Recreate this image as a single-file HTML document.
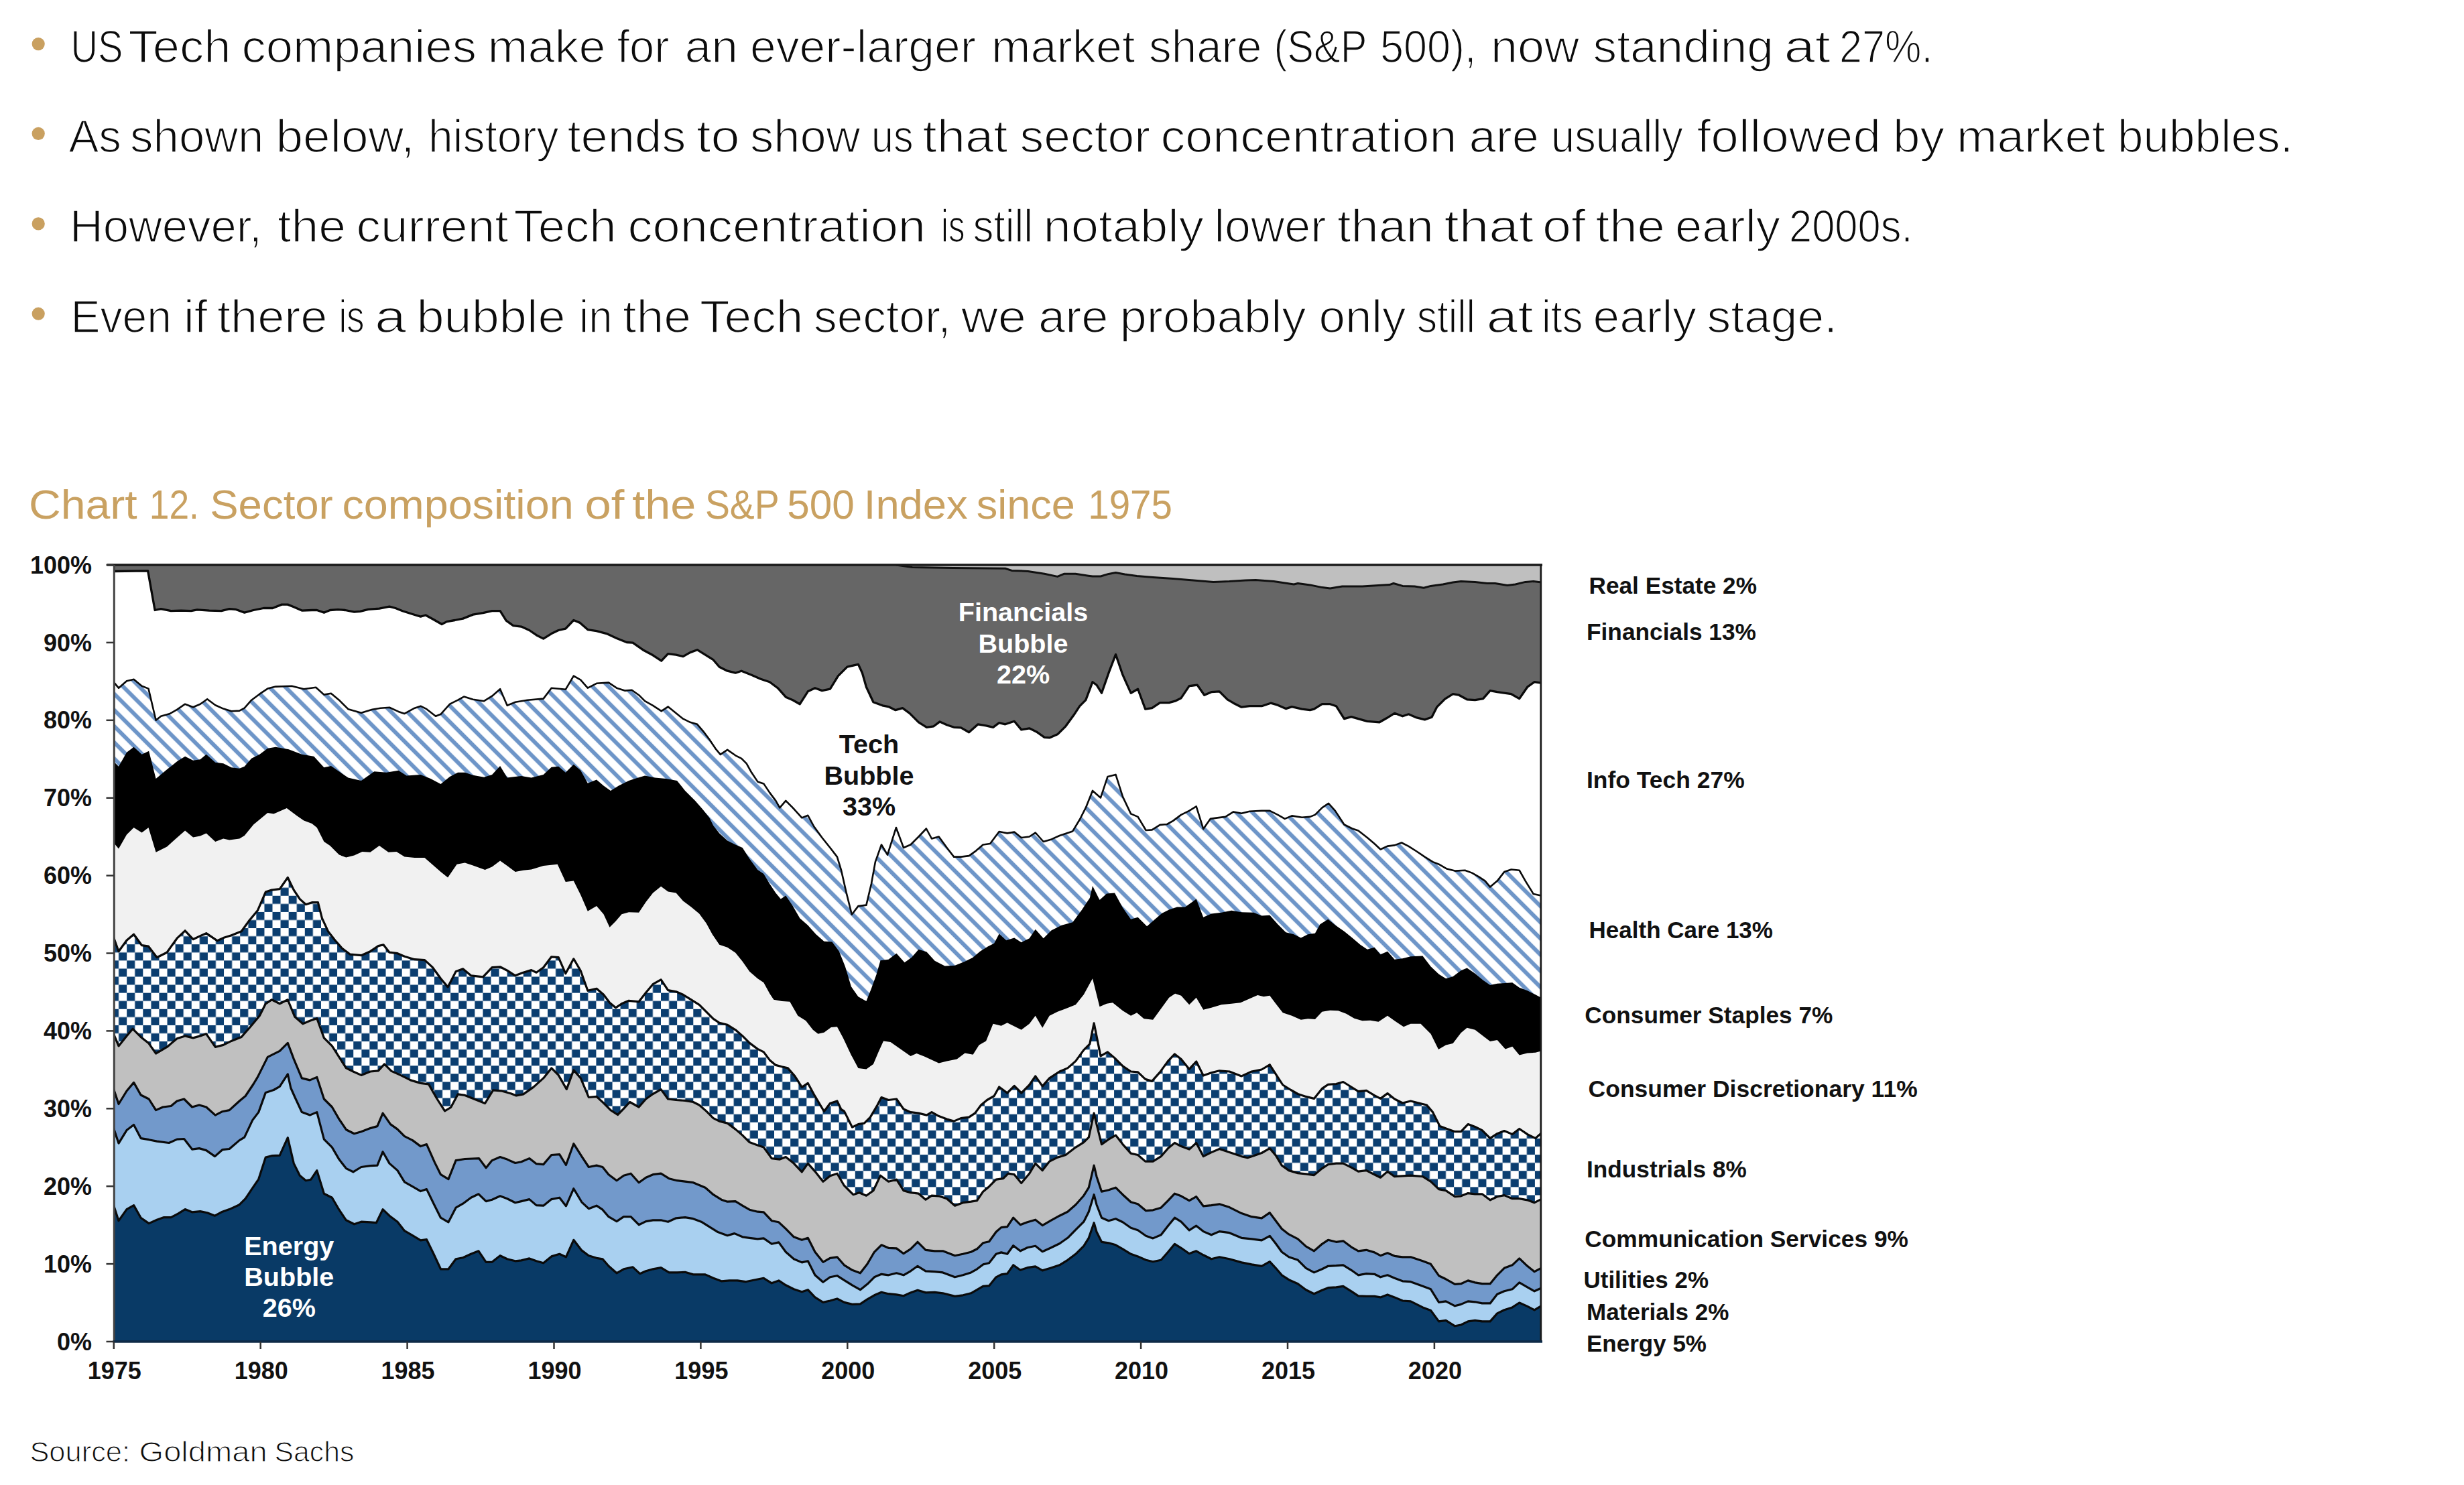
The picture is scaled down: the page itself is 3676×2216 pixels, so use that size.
<!DOCTYPE html>
<html><head><meta charset="utf-8"><title>Chart 12</title>
<style>
html,body{margin:0;padding:0;background:#fff;}
svg{display:block;}
text{font-family:"Liberation Sans",sans-serif;}
.bd{font-size:69px;fill:#0c0c0c;stroke:#fff;stroke-width:1.7px;}
.tt{font-size:61px;fill:#c9a161;}
.sr{font-size:42.5px;fill:#0c0c0c;stroke:#fff;stroke-width:1.1px;}
.ax{font-size:36px;font-weight:bold;fill:#111;}
.lg{font-size:35px;font-weight:bold;fill:#111;}
.il{font-size:39.6px;font-weight:bold;}
</style></head><body>
<svg width="3676" height="2216" viewBox="0 0 3676 2216">
<defs>
<pattern id="chk" patternUnits="userSpaceOnUse" x="406.5" y="1457.5" width="24.146" height="24.146"><rect width="24.146" height="24.146" fill="#ffffff"/><rect x="0" y="0" width="12.073" height="12.073" fill="#0b3e70"/><rect x="12.073" y="12.073" width="12.073" height="12.073" fill="#0b3e70"/></pattern>
<pattern id="stp" patternUnits="userSpaceOnUse" width="40" height="17.074" patternTransform="translate(408.1,1080) rotate(45)"><rect width="40" height="17.074" fill="#ffffff"/><rect x="0" y="0" width="40" height="3.000" fill="#6d95c8"/><rect x="0" y="14.074" width="40" height="3.000" fill="#6d95c8"/></pattern>
<clipPath id="cc"><rect x="169.5" y="843.0" width="2130.5" height="1159.0"/></clipPath>
</defs>
<rect width="3676" height="2216" fill="#ffffff"/>
<g clip-path="url(#cc)" stroke-linejoin="round">
<rect x="169.5" y="843.0" width="2130.5" height="1159.0" fill="#666666"/>
<polygon points="1336.5,843.0 1361.0,846.6 1421.7,847.5 1499.7,848.3 1509.4,851.4 1533.7,852.4 1558.1,856.3 1577.6,860.4 1587.3,856.3 1604.4,856.3 1623.8,859.2 1630.0,860.0 1642.0,860.0 1654.0,856.4 1664.5,854.6 1678.1,857.0 1696.1,859.4 1720.1,861.5 1750.1,863.6 1780.2,866.0 1810.2,868.4 1834.2,867.5 1858.2,866.0 1873.3,865.4 1900.3,867.5 1930.3,872.0 1936.3,870.5 1954.4,872.9 1972.4,876.6 1984.4,878.1 2002.4,875.0 2032.4,875.0 2056.5,873.5 2073.0,872.6 2079.0,870.5 2092.5,874.4 2110.5,875.0 2124.0,877.2 2134.5,874.4 2152.6,872.0 2167.6,869.0 2179.6,867.5 2200.6,868.4 2218.6,870.5 2230.6,870.5 2248.7,873.5 2260.7,872.0 2275.7,868.4 2287.7,867.5 2300.0,869.0 2300.0,843.0" fill="#bfbfbf"/>
<polygon points="169.5,852.5 220.6,851.9 231.1,910.5 240.1,908.7 255.1,911.7 270.1,911.1 285.1,911.7 294.2,909.9 312.2,911.1 330.2,911.7 342.2,908.7 351.2,909.3 364.7,914.1 378.2,910.5 393.3,907.5 406.8,907.5 420.3,902.1 429.3,902.1 438.3,905.7 450.3,911.1 465.3,910.5 472.8,910.5 483.4,914.1 492.4,910.5 504.4,909.6 514.9,910.5 528.4,913.2 537.4,912.3 549.4,909.3 565.9,908.1 581.0,905.1 590.0,907.5 600.5,911.7 615.5,916.5 627.5,920.1 635.0,918.0 645.5,923.7 659.1,931.5 666.6,927.6 678.6,925.5 690.6,923.1 705.6,917.1 720.6,914.7 734.1,911.7 746.1,911.7 755.2,926.1 765.7,933.6 777.7,935.1 789.7,940.5 800.2,947.7 810.7,953.1 822.7,945.6 833.2,940.5 843.8,938.1 855.8,925.5 864.8,929.1 876.8,939.6 890.0,941.7 905.0,945.6 920.0,952.5 935.0,958.5 944.1,959.1 959.1,969.7 974.1,977.8 986.7,986.2 996.6,975.7 1008.6,977.2 1019.1,979.6 1029.7,973.6 1040.2,969.7 1052.2,977.2 1064.2,984.7 1073.2,995.2 1085.2,1001.2 1097.2,1004.2 1106.2,1001.2 1121.2,1007.2 1134.8,1013.2 1148.3,1017.7 1160.3,1026.7 1172.3,1040.2 1182.8,1044.7 1193.3,1050.7 1205.3,1031.8 1215.9,1026.7 1226.4,1030.6 1238.4,1028.2 1250.4,1008.7 1263.9,995.2 1280.4,991.3 1286.4,1004.2 1292.4,1025.2 1302.9,1047.7 1316.5,1052.8 1325.5,1054.6 1336.0,1059.7 1346.5,1056.7 1357.0,1064.3 1370.5,1077.8 1382.5,1085.3 1393.0,1083.8 1402.1,1076.9 1412.6,1081.7 1423.1,1085.3 1433.6,1085.9 1445.6,1092.8 1459.1,1080.8 1471.1,1082.9 1481.6,1085.3 1490.6,1078.7 1499.7,1080.8 1513.2,1076.3 1523.7,1088.9 1535.7,1086.8 1546.2,1091.9 1558.2,1100.3 1565.7,1100.9 1577.7,1095.8 1589.8,1083.8 1601.8,1067.3 1610.8,1053.7 1619.8,1044.7 1630.0,1017.7 1636.0,1022.2 1643.5,1034.2 1654.0,1004.2 1664.5,976.6 1675.0,1007.2 1687.1,1034.2 1697.6,1028.2 1708.7,1058.2 1718.6,1056.7 1730.6,1048.6 1744.1,1048.6 1753.1,1046.2 1762.1,1041.7 1774.2,1023.7 1786.2,1022.2 1796.7,1037.2 1807.2,1032.7 1819.2,1031.8 1831.2,1043.8 1840.2,1049.2 1852.2,1055.2 1864.3,1053.7 1882.3,1053.7 1895.8,1049.2 1906.3,1052.2 1918.3,1057.6 1927.3,1054.6 1942.3,1058.2 1954.4,1059.7 1960.4,1058.2 1972.4,1050.7 1984.4,1050.7 1993.4,1053.7 2005.4,1072.7 2015.9,1069.7 2026.4,1072.7 2039.9,1076.3 2058.0,1077.8 2068.5,1071.8 2080.5,1064.3 2092.5,1068.8 2101.5,1065.8 2113.5,1070.9 2125.5,1073.9 2136.0,1070.3 2143.6,1055.2 2155.6,1043.2 2167.6,1035.7 2176.6,1037.2 2188.6,1043.8 2200.6,1044.7 2212.6,1042.6 2223.1,1030.6 2233.7,1032.7 2254.7,1035.7 2266.7,1042.6 2278.7,1025.2 2289.2,1017.7 2299.1,1019.2 2300.0,1019.2 2300.0,2007.0 169.5,2007.0" fill="#ffffff"/>
<polygon points="169.5,1017.7 177.0,1026.7 189.0,1016.2 199.6,1013.8 211.6,1023.7 221.5,1027.6 232.6,1074.8 240.1,1068.8 253.6,1064.9 264.1,1058.8 276.1,1050.7 288.1,1055.2 298.7,1050.7 309.2,1043.2 321.2,1052.2 333.2,1057.6 345.2,1061.2 357.2,1060.6 364.7,1056.7 375.2,1044.7 387.3,1035.7 399.3,1027.6 411.3,1024.6 435.3,1023.7 453.3,1028.2 471.3,1025.8 483.4,1036.6 493.9,1034.8 505.9,1044.7 519.4,1058.2 538.9,1063.7 555.4,1058.8 567.5,1056.7 581.0,1055.8 594.5,1061.9 603.5,1064.9 618.5,1056.7 627.5,1053.7 636.5,1058.2 650.0,1068.8 657.5,1065.8 671.1,1050.7 683.1,1044.7 692.1,1039.6 705.6,1043.8 722.1,1046.2 734.1,1038.7 746.1,1028.2 756.7,1052.8 768.7,1047.7 786.7,1044.7 810.7,1042.6 822.7,1026.7 843.8,1028.8 855.8,1008.7 866.3,1014.7 876.8,1026.7 890.0,1019.8 908.0,1018.6 920.0,1026.7 932.0,1030.6 942.6,1029.7 953.1,1037.2 962.1,1046.2 974.1,1052.8 986.7,1061.2 996.6,1054.6 1008.6,1064.3 1019.1,1072.7 1029.7,1077.8 1040.2,1080.8 1049.2,1091.3 1058.2,1103.3 1067.2,1116.8 1074.7,1125.8 1085.2,1118.9 1097.2,1127.3 1106.2,1131.8 1113.7,1139.3 1121.2,1152.8 1130.3,1166.4 1139.3,1169.4 1148.3,1182.9 1157.3,1194.9 1163.3,1205.4 1172.3,1194.9 1182.8,1205.4 1196.3,1220.4 1205.3,1216.8 1214.4,1233.5 1226.4,1250.0 1238.4,1265.0 1248.9,1278.6 1254.9,1298.1 1262.4,1331.1 1270.8,1364.8 1280.4,1352.1 1292.4,1350.6 1299.9,1319.1 1305.9,1286.1 1315.0,1260.5 1324.0,1275.6 1336.9,1235.0 1348.0,1265.0 1358.5,1260.5 1370.5,1248.5 1381.9,1236.5 1390.0,1251.5 1400.6,1248.5 1412.6,1265.0 1423.1,1278.6 1433.6,1278.6 1445.6,1277.1 1456.1,1269.6 1466.6,1260.5 1477.1,1259.0 1490.6,1241.0 1502.7,1243.4 1513.2,1241.6 1523.7,1250.0 1535.7,1248.5 1544.7,1242.5 1556.7,1256.0 1568.7,1252.4 1580.7,1247.0 1600.3,1240.4 1610.8,1223.0 1619.8,1205.4 1630.0,1179.9 1642.0,1190.4 1652.5,1158.9 1664.5,1155.9 1675.0,1188.9 1687.1,1214.4 1697.6,1218.9 1709.6,1239.0 1718.6,1238.4 1730.6,1230.9 1741.1,1230.0 1750.1,1224.9 1762.1,1215.9 1774.2,1209.9 1784.7,1203.3 1795.2,1236.9 1805.7,1221.9 1816.2,1220.4 1828.2,1218.9 1840.2,1211.4 1852.2,1213.8 1864.3,1210.8 1882.3,1209.9 1894.3,1209.9 1906.3,1215.9 1916.8,1221.9 1927.3,1217.4 1942.3,1219.8 1954.4,1218.9 1961.9,1215.9 1972.4,1205.4 1982.0,1198.8 1991.9,1209.9 2005.4,1230.5 2017.4,1236.5 2026.4,1239.5 2039.9,1250.0 2050.5,1259.0 2059.5,1267.5 2070.0,1262.6 2080.5,1261.4 2091.0,1257.5 2101.5,1262.9 2113.5,1270.5 2125.5,1278.6 2137.5,1286.1 2146.6,1289.7 2158.6,1296.6 2170.6,1299.6 2185.6,1298.7 2196.1,1302.6 2206.6,1308.6 2215.6,1314.6 2223.1,1323.6 2233.7,1314.6 2244.2,1301.1 2254.7,1297.5 2266.7,1298.7 2275.7,1314.6 2287.7,1334.1 2299.1,1336.5 2300.0,1336.5 2300.0,2007.0 169.5,2007.0" fill="url(#stp)"/>
<polygon points="169.5,1136.3 177.0,1143.8 189.0,1122.8 199.6,1114.7 211.6,1125.8 222.1,1120.7 232.6,1161.9 249.1,1148.3 264.1,1136.3 276.1,1128.8 288.1,1134.8 298.7,1133.3 307.7,1125.8 321.2,1137.8 333.2,1139.3 345.2,1145.3 357.2,1146.8 364.7,1143.8 375.2,1131.8 387.3,1125.8 399.3,1116.8 411.3,1114.7 430.8,1118.3 450.3,1125.8 468.3,1128.8 483.4,1145.3 493.9,1142.9 505.9,1151.3 519.4,1160.4 538.9,1164.9 558.4,1151.3 576.5,1152.8 594.5,1149.8 606.5,1157.4 627.5,1155.9 642.5,1161.9 657.5,1170.0 671.1,1158.9 683.1,1152.8 693.6,1152.8 705.6,1156.8 722.1,1159.8 734.1,1155.9 746.1,1142.9 756.7,1160.4 777.7,1158.0 792.7,1160.4 810.7,1155.9 822.7,1144.7 833.2,1143.8 843.8,1152.8 855.8,1140.8 866.3,1149.8 876.8,1168.8 890.0,1163.4 900.5,1172.4 911.0,1179.9 923.0,1172.4 938.1,1164.9 947.1,1161.9 962.1,1157.4 977.1,1160.4 993.6,1161.9 1010.1,1164.9 1022.1,1179.9 1037.2,1194.9 1047.7,1206.9 1058.2,1220.0 1064.2,1232.0 1073.2,1243.4 1085.2,1254.5 1097.2,1260.5 1107.7,1265.0 1118.2,1281.6 1130.3,1298.1 1139.3,1304.1 1148.3,1319.1 1157.3,1332.6 1164.8,1341.6 1172.3,1336.5 1182.8,1352.1 1193.3,1370.2 1205.3,1380.7 1217.4,1394.2 1229.4,1404.7 1241.4,1405.6 1251.9,1419.7 1260.9,1442.2 1269.9,1472.3 1280.4,1487.3 1292.4,1493.9 1299.9,1475.3 1307.5,1454.3 1313.5,1433.2 1325.5,1431.7 1337.5,1422.7 1349.5,1436.2 1360.0,1428.7 1370.5,1416.7 1382.5,1420.6 1394.5,1433.8 1409.6,1441.6 1424.6,1440.7 1439.6,1434.7 1451.6,1428.7 1462.1,1419.7 1474.1,1412.2 1483.1,1407.7 1490.6,1393.6 1501.2,1403.2 1513.2,1399.6 1523.7,1406.2 1535.7,1400.2 1544.7,1386.7 1556.7,1400.2 1568.7,1388.2 1583.8,1380.7 1600.3,1376.2 1613.8,1358.1 1625.8,1340.1 1630.0,1322.1 1640.5,1343.1 1651.0,1333.5 1663.0,1332.6 1675.0,1354.5 1687.1,1371.7 1697.6,1368.7 1711.1,1382.2 1723.1,1371.7 1733.6,1362.7 1744.1,1357.5 1756.1,1353.6 1768.1,1353.6 1784.7,1341.6 1795.2,1368.7 1807.2,1363.6 1822.2,1361.8 1837.2,1358.8 1852.2,1361.2 1870.3,1361.8 1882.3,1366.6 1894.3,1365.7 1906.3,1379.2 1918.3,1391.2 1930.3,1394.2 1940.8,1399.6 1951.3,1394.2 1961.9,1392.7 1969.4,1379.2 1981.4,1371.7 1993.4,1381.6 2005.4,1389.7 2017.4,1399.6 2029.4,1409.8 2039.9,1416.7 2050.5,1413.7 2059.5,1424.2 2070.0,1419.7 2080.5,1431.7 2092.5,1430.2 2104.5,1427.2 2122.5,1426.6 2134.5,1442.2 2146.6,1453.7 2157.1,1460.3 2167.6,1457.3 2179.6,1448.2 2188.6,1444.6 2200.6,1452.8 2212.6,1462.7 2223.1,1469.9 2233.7,1467.8 2245.7,1466.9 2256.2,1466.3 2266.7,1473.8 2278.7,1478.3 2290.7,1484.3 2299.1,1488.8 2300.0,1488.8 2300.0,2007.0 169.5,2007.0" fill="#000000"/>
<polygon points="169.5,1257.5 177.0,1266.6 189.0,1245.5 199.6,1235.0 211.6,1242.5 221.5,1235.0 232.6,1271.7 249.1,1263.5 264.1,1250.0 276.1,1239.5 288.1,1249.4 298.7,1247.6 307.7,1243.4 321.2,1256.0 333.2,1251.5 342.2,1253.6 357.2,1251.5 364.7,1247.0 378.2,1230.5 399.3,1212.9 408.3,1214.4 427.8,1206.0 442.8,1217.3 453.3,1224.5 465.3,1229.0 472.8,1235.0 483.4,1256.0 492.4,1262.0 505.9,1275.6 516.4,1279.5 528.4,1276.5 540.4,1271.1 552.4,1271.7 565.9,1262.0 579.5,1271.7 591.5,1271.1 603.5,1278.6 618.5,1280.1 633.5,1280.1 645.5,1290.6 657.5,1301.1 668.1,1309.5 681.6,1289.7 693.6,1287.6 705.6,1291.5 723.6,1298.1 734.1,1293.6 746.1,1284.6 756.7,1292.1 768.7,1301.1 780.7,1298.7 792.7,1297.5 810.7,1292.1 831.7,1289.7 843.8,1316.1 855.8,1314.6 866.3,1335.6 876.8,1359.7 890.0,1352.1 900.5,1364.2 909.5,1383.7 918.5,1374.7 927.5,1364.2 938.1,1361.2 953.1,1361.8 963.6,1346.1 974.1,1332.6 986.1,1322.7 996.6,1330.5 1008.6,1332.6 1019.1,1344.6 1031.2,1353.6 1043.2,1363.6 1053.7,1377.7 1062.7,1394.2 1073.2,1409.8 1085.2,1413.7 1097.2,1421.8 1107.7,1434.7 1118.2,1449.7 1130.3,1460.3 1139.3,1466.3 1148.3,1482.8 1154.3,1491.8 1166.3,1493.9 1178.3,1494.8 1190.3,1515.8 1202.3,1523.3 1212.8,1536.8 1220.4,1542.8 1229.4,1540.7 1239.9,1532.9 1248.9,1532.3 1257.9,1548.9 1269.9,1574.4 1280.4,1593.9 1292.4,1595.4 1302.9,1587.9 1310.5,1569.9 1318.0,1553.4 1328.5,1554.9 1343.5,1565.4 1358.5,1575.9 1367.5,1572.0 1379.5,1576.8 1400.6,1586.4 1412.6,1583.4 1427.6,1580.4 1439.6,1571.4 1451.6,1573.8 1460.6,1559.4 1471.1,1553.4 1481.6,1527.8 1493.7,1530.8 1502.7,1526.3 1514.7,1532.3 1523.7,1536.8 1535.7,1527.8 1544.7,1515.8 1555.2,1533.8 1565.7,1515.8 1577.7,1509.8 1589.8,1505.3 1604.8,1499.3 1616.8,1484.3 1625.8,1467.8 1630.0,1460.3 1640.5,1502.3 1651.0,1497.8 1660.0,1496.3 1675.0,1508.3 1687.1,1515.8 1696.1,1511.3 1706.6,1520.3 1720.1,1521.8 1732.1,1505.3 1744.1,1488.8 1753.1,1482.8 1762.1,1485.8 1774.2,1499.3 1784.7,1488.8 1795.2,1506.8 1807.2,1503.8 1822.2,1499.3 1837.2,1497.8 1850.7,1496.3 1864.3,1490.3 1876.3,1484.9 1885.3,1487.3 1894.3,1485.8 1903.3,1497.8 1913.8,1511.3 1927.3,1515.8 1940.8,1521.8 1951.3,1520.3 1961.9,1520.9 1972.4,1509.8 1984.4,1507.7 1996.4,1508.3 2008.4,1512.8 2020.4,1519.7 2032.4,1523.3 2044.4,1522.7 2056.5,1524.8 2070.0,1515.8 2080.5,1523.3 2094.0,1532.3 2104.5,1527.8 2119.5,1527.8 2134.5,1542.8 2146.0,1566.0 2157.1,1559.4 2167.6,1557.0 2179.6,1541.3 2188.6,1533.8 2200.6,1536.8 2212.6,1545.9 2223.1,1554.0 2233.7,1551.9 2245.7,1565.4 2256.2,1561.8 2266.7,1574.4 2278.7,1571.4 2290.7,1570.8 2299.1,1568.4 2300.0,1568.4 2300.0,2007.0 169.5,2007.0" fill="#f1f1f1"/>
<polygon points="169.5,1398.7 177.0,1419.7 189.0,1403.2 199.6,1394.2 211.6,1410.7 221.5,1412.2 234.1,1428.7 249.1,1421.2 264.1,1400.2 276.1,1388.8 288.1,1401.7 298.7,1396.6 307.7,1392.7 324.2,1403.8 333.2,1399.6 345.2,1395.7 360.2,1389.7 372.2,1373.2 384.3,1358.8 396.3,1331.1 405.3,1328.1 417.3,1326.6 429.3,1309.5 438.3,1328.1 447.3,1341.6 456.3,1349.7 465.3,1346.7 474.4,1346.7 480.4,1370.2 489.4,1389.7 499.9,1403.2 510.4,1415.2 522.4,1424.2 538.9,1425.7 552.4,1419.7 564.4,1411.6 572.0,1409.8 581.0,1421.2 593.0,1422.7 603.5,1427.2 618.5,1431.7 633.5,1432.6 645.5,1443.7 657.5,1460.3 668.1,1472.9 680.1,1449.7 690.6,1445.8 702.6,1455.8 720.6,1457.9 734.1,1443.7 746.1,1442.8 756.7,1448.2 768.7,1455.8 780.7,1451.2 792.7,1447.6 800.2,1451.2 810.7,1443.7 822.7,1427.8 833.2,1428.7 843.8,1452.8 855.8,1430.8 866.3,1448.8 876.8,1478.3 890.0,1475.3 900.5,1484.3 909.5,1496.3 918.5,1503.8 927.5,1497.8 938.1,1493.3 953.1,1494.8 963.6,1481.3 974.1,1468.7 986.1,1461.8 996.6,1477.7 1008.6,1479.8 1019.1,1484.3 1031.2,1491.8 1043.2,1499.3 1053.7,1509.8 1064.2,1520.3 1073.2,1526.3 1085.2,1529.3 1097.2,1536.8 1107.7,1545.9 1118.2,1556.4 1130.3,1565.4 1139.3,1569.9 1148.3,1581.9 1157.3,1589.4 1166.3,1591.8 1175.3,1593.9 1185.8,1605.9 1196.3,1622.4 1205.3,1616.4 1215.9,1635.9 1229.4,1658.5 1238.4,1646.5 1248.9,1642.9 1254.9,1655.5 1259.4,1658.1 1271.4,1682.1 1280.4,1677.6 1289.4,1676.1 1298.4,1667.1 1309.0,1649.0 1315.0,1637.6 1325.5,1641.5 1337.5,1640.0 1348.0,1655.0 1358.5,1659.6 1370.5,1661.1 1382.5,1664.1 1390.0,1659.6 1400.6,1665.6 1412.6,1670.1 1423.1,1673.1 1433.6,1668.6 1445.6,1667.1 1454.6,1661.1 1463.6,1649.0 1472.6,1641.5 1483.1,1635.5 1490.6,1622.0 1502.7,1631.0 1513.2,1620.5 1523.7,1631.0 1535.7,1619.0 1544.7,1605.9 1555.2,1620.9 1565.7,1608.9 1580.7,1599.0 1592.8,1593.9 1604.8,1583.4 1616.8,1566.9 1625.8,1557.9 1632.1,1526.9 1642.0,1575.9 1652.5,1569.9 1663.0,1578.9 1675.0,1590.9 1687.1,1599.0 1697.6,1599.9 1708.7,1610.4 1718.6,1613.4 1730.6,1599.9 1742.6,1583.4 1752.5,1572.9 1762.1,1580.4 1774.2,1595.4 1784.7,1584.0 1795.2,1605.0 1807.2,1600.8 1819.2,1597.8 1834.2,1599.0 1852.2,1605.9 1867.3,1599.0 1882.3,1596.0 1894.3,1588.8 1903.3,1602.9 1913.8,1619.0 1925.8,1626.5 1936.3,1632.5 1948.3,1636.4 1960.4,1639.4 1972.4,1624.4 1981.4,1618.4 1993.4,1617.5 2003.9,1614.5 2015.9,1622.0 2026.4,1628.6 2038.4,1627.4 2050.5,1634.6 2059.5,1639.4 2070.0,1631.6 2080.5,1640.0 2092.5,1646.0 2104.5,1643.0 2116.5,1646.0 2128.5,1649.0 2137.5,1659.6 2148.1,1680.6 2158.6,1684.5 2170.6,1688.7 2179.6,1688.7 2190.1,1677.6 2200.6,1681.5 2211.1,1686.6 2223.1,1698.6 2233.7,1691.7 2244.2,1687.5 2256.2,1692.6 2266.7,1684.5 2278.7,1692.6 2290.7,1698.6 2299.1,1691.1 2300.0,1691.1 2300.0,2007.0 169.5,2007.0" fill="url(#chk)"/>
<polygon points="169.5,1542.8 177.0,1560.9 189.0,1545.9 198.1,1535.3 210.1,1547.4 221.5,1556.4 232.6,1572.0 249.1,1562.4 264.1,1549.8 276.1,1545.9 288.1,1548.9 298.7,1545.9 307.7,1542.8 321.2,1562.4 333.2,1559.4 345.2,1553.4 360.2,1547.4 372.2,1533.8 387.3,1515.8 396.3,1497.8 405.3,1491.8 417.3,1497.8 429.3,1491.8 439.8,1517.3 451.8,1527.8 462.3,1523.3 472.8,1519.7 483.4,1548.9 495.4,1560.9 505.9,1577.4 516.4,1593.9 526.9,1599.0 538.9,1604.4 552.4,1599.0 564.4,1597.8 573.5,1587.9 584.0,1598.4 597.5,1604.4 612.5,1611.9 627.5,1616.4 639.5,1617.9 651.5,1639.0 663.6,1657.9 672.6,1652.5 683.1,1632.9 693.6,1634.4 708.6,1640.5 723.6,1646.5 735.6,1626.9 747.6,1627.8 762.7,1632.0 770.2,1635.0 780.7,1632.9 795.7,1622.4 810.7,1608.9 822.7,1593.9 833.2,1604.4 845.3,1625.4 855.8,1596.9 866.3,1608.9 878.3,1637.5 890.0,1636.4 900.5,1646.0 911.0,1656.6 921.5,1663.5 930.5,1654.4 939.6,1644.5 953.1,1652.0 963.6,1640.0 974.1,1632.5 986.1,1625.6 996.6,1640.0 1008.6,1641.5 1022.1,1642.4 1034.2,1644.5 1043.2,1649.0 1053.7,1658.1 1064.2,1668.6 1073.2,1673.1 1085.2,1676.1 1097.2,1685.1 1107.7,1694.1 1118.2,1704.6 1130.3,1709.1 1139.3,1712.1 1151.3,1728.6 1163.3,1730.1 1172.3,1726.5 1184.3,1736.1 1196.3,1748.8 1205.3,1736.1 1215.9,1748.1 1227.9,1763.2 1238.4,1754.8 1248.9,1751.2 1259.4,1769.2 1272.9,1782.7 1281.9,1779.7 1292.4,1784.2 1302.9,1776.7 1313.5,1754.2 1325.5,1763.2 1337.5,1760.2 1348.0,1776.7 1358.5,1779.7 1370.5,1781.2 1381.0,1790.2 1390.0,1784.2 1400.6,1784.8 1412.6,1788.7 1424.6,1799.2 1436.6,1794.7 1448.6,1793.2 1457.6,1791.7 1466.6,1778.2 1475.6,1770.7 1486.1,1760.2 1496.7,1758.7 1504.2,1751.2 1513.2,1752.7 1523.7,1765.6 1535.7,1751.2 1544.7,1736.1 1555.2,1746.6 1565.7,1733.1 1577.7,1727.1 1589.8,1723.5 1604.8,1712.1 1616.8,1704.6 1624.3,1697.1 1632.1,1661.1 1636.0,1677.6 1643.5,1707.6 1654.0,1700.1 1664.5,1694.1 1675.0,1707.6 1687.1,1721.1 1697.6,1723.5 1708.7,1733.1 1720.1,1733.1 1732.1,1725.6 1742.6,1713.6 1752.5,1705.5 1762.1,1710.6 1774.2,1715.1 1784.7,1705.5 1795.2,1725.6 1807.2,1719.6 1819.2,1714.5 1834.2,1719.6 1852.2,1725.6 1861.2,1727.7 1870.3,1724.7 1882.3,1720.5 1894.3,1713.6 1903.3,1724.1 1912.3,1739.1 1922.8,1746.6 1936.3,1750.6 1948.3,1751.8 1960.4,1753.6 1972.4,1743.6 1981.4,1737.6 1993.4,1736.1 2003.9,1736.1 2015.9,1742.1 2026.4,1748.1 2038.4,1746.6 2050.5,1752.7 2059.5,1757.2 2070.0,1748.1 2080.5,1755.7 2092.5,1754.8 2104.5,1754.2 2122.5,1755.7 2134.5,1763.2 2146.6,1774.6 2157.1,1776.7 2170.6,1785.7 2179.6,1784.8 2190.1,1780.6 2200.6,1781.8 2211.1,1781.8 2223.1,1790.8 2233.7,1785.7 2244.2,1783.6 2256.2,1788.7 2266.7,1788.7 2278.7,1790.8 2289.2,1794.7 2299.1,1789.6 2300.0,1789.6 2300.0,2007.0 169.5,2007.0" fill="#c0c0c0"/>
<polygon points="169.5,1625.0 177.0,1647.5 189.0,1628.0 199.6,1615.4 210.1,1634.0 222.1,1640.0 232.6,1656.6 243.1,1652.0 255.1,1650.5 264.1,1643.0 274.6,1640.0 286.6,1652.0 297.2,1649.0 307.7,1652.0 321.2,1664.1 331.7,1658.7 342.2,1656.6 357.2,1643.0 366.2,1635.5 378.2,1617.5 384.3,1607.4 399.3,1577.4 408.3,1572.9 417.3,1568.4 429.3,1556.4 438.3,1580.4 450.3,1608.9 462.3,1611.9 472.8,1607.4 483.4,1640.0 495.4,1652.0 505.9,1670.1 516.4,1685.7 528.4,1691.7 538.9,1688.7 552.4,1683.6 562.9,1680.6 571.1,1661.1 582.5,1677.6 593.0,1685.1 603.5,1695.6 615.5,1701.6 627.5,1710.6 636.5,1707.6 648.5,1734.6 657.5,1752.7 669.0,1759.6 680.1,1731.6 693.6,1729.5 714.6,1728.6 725.1,1742.7 734.1,1731.6 746.1,1726.5 756.7,1730.1 768.7,1735.5 777.7,1733.7 789.7,1728.6 800.2,1736.7 810.7,1737.6 822.7,1723.5 834.7,1722.6 844.4,1738.5 855.8,1706.7 867.8,1725.6 878.3,1741.5 890.0,1739.1 899.0,1741.5 908.0,1752.7 920.0,1761.7 930.5,1754.2 941.1,1751.2 953.1,1764.7 963.6,1757.2 974.1,1752.7 986.1,1751.2 998.1,1758.7 1010.1,1761.7 1022.1,1763.2 1034.2,1764.7 1052.2,1772.2 1064.2,1782.7 1076.2,1790.2 1085.2,1793.2 1097.2,1792.6 1107.7,1799.2 1118.2,1805.2 1130.3,1808.2 1139.3,1808.8 1151.3,1821.7 1161.8,1823.8 1172.3,1833.7 1184.3,1845.8 1196.3,1850.3 1205.3,1847.3 1215.9,1868.3 1227.9,1883.3 1238.4,1877.3 1248.9,1875.8 1259.4,1887.8 1271.4,1895.3 1283.4,1899.8 1293.9,1886.3 1304.4,1868.3 1315.0,1857.8 1325.5,1862.3 1337.5,1862.9 1348.0,1870.7 1358.5,1863.8 1369.0,1853.3 1381.0,1865.3 1394.5,1866.8 1406.6,1866.8 1424.6,1873.7 1436.6,1871.3 1448.6,1868.3 1457.6,1863.8 1466.6,1854.8 1475.6,1852.7 1486.1,1838.2 1493.7,1831.6 1502.7,1830.7 1511.7,1817.2 1522.2,1827.7 1532.7,1823.8 1544.7,1820.2 1555.2,1828.6 1567.2,1821.7 1580.7,1814.2 1592.8,1808.2 1604.8,1797.7 1616.8,1784.2 1624.3,1772.2 1632.1,1739.1 1636.0,1755.7 1643.5,1778.2 1654.0,1775.8 1664.5,1772.2 1675.0,1782.7 1687.1,1793.8 1697.6,1796.8 1709.6,1806.7 1720.1,1805.8 1732.1,1802.2 1742.6,1791.7 1752.5,1781.2 1762.1,1784.8 1774.2,1791.7 1784.7,1785.7 1795.2,1799.8 1807.2,1798.6 1819.2,1796.8 1834.2,1801.6 1852.2,1810.6 1867.3,1815.7 1882.3,1817.8 1894.3,1809.7 1903.3,1821.7 1912.3,1833.7 1922.8,1841.9 1936.3,1848.8 1948.3,1859.9 1960.4,1866.8 1972.4,1856.3 1981.4,1850.3 1993.4,1853.3 2003.9,1851.8 2015.9,1860.8 2026.4,1866.8 2038.4,1865.3 2050.5,1868.9 2059.5,1873.7 2070.0,1869.8 2080.5,1874.3 2092.5,1875.8 2104.5,1875.8 2122.5,1881.8 2134.5,1886.3 2146.6,1903.7 2157.1,1908.8 2170.6,1916.3 2179.6,1915.7 2190.1,1910.9 2200.6,1913.9 2211.1,1915.7 2223.1,1915.7 2233.7,1902.8 2244.2,1892.3 2256.2,1887.8 2266.7,1877.9 2278.7,1889.3 2289.2,1897.7 2299.1,1892.3 2300.0,1892.3 2300.0,2007.0 169.5,2007.0" fill="#7299cb"/>
<polygon points="169.5,1683.6 177.0,1706.1 189.0,1686.6 199.6,1678.5 210.1,1698.6 222.1,1700.7 234.1,1703.1 252.1,1705.5 264.1,1700.1 274.6,1699.5 286.6,1715.1 297.2,1713.6 307.7,1716.6 320.6,1725.6 331.7,1715.7 342.2,1714.5 357.2,1701.6 364.7,1697.1 376.7,1671.6 385.8,1659.6 396.3,1630.4 408.3,1626.5 417.3,1621.4 429.3,1602.9 433.8,1623.5 439.8,1637.0 450.3,1659.6 462.3,1664.1 472.8,1659.6 483.4,1700.1 495.4,1712.1 505.9,1730.1 516.4,1743.6 526.9,1748.8 538.9,1741.5 552.4,1739.7 562.9,1739.1 571.1,1718.7 581.0,1736.1 593.0,1746.6 603.5,1763.8 615.5,1770.7 627.5,1777.6 636.5,1774.6 647.0,1796.2 657.5,1817.2 669.0,1823.8 680.1,1802.2 690.6,1796.2 702.6,1787.2 714.0,1781.8 725.1,1792.6 734.1,1790.2 746.1,1784.8 756.7,1788.7 768.7,1794.7 777.7,1792.6 789.7,1789.6 800.2,1798.6 810.7,1799.2 822.7,1789.6 834.7,1787.2 844.4,1799.8 855.8,1773.7 867.8,1793.8 878.3,1803.7 890.0,1799.2 899.0,1805.2 908.0,1815.7 920.0,1822.6 930.5,1815.7 941.1,1815.7 953.1,1827.7 963.6,1822.6 974.1,1820.8 986.1,1820.8 996.6,1823.2 1008.6,1817.8 1022.1,1816.6 1034.2,1818.7 1046.2,1823.2 1058.2,1830.7 1070.2,1838.2 1085.2,1843.7 1095.7,1840.6 1107.7,1845.8 1118.2,1847.3 1130.3,1848.8 1139.3,1847.9 1151.3,1856.3 1161.8,1853.9 1172.3,1868.3 1184.3,1878.8 1196.3,1883.9 1205.3,1881.8 1215.9,1902.8 1227.9,1913.3 1238.4,1905.8 1248.9,1903.7 1259.4,1910.3 1271.4,1917.8 1283.4,1924.7 1293.9,1916.3 1304.4,1905.8 1315.0,1901.3 1325.5,1902.8 1337.5,1899.8 1348.0,1902.8 1358.5,1896.8 1369.0,1889.3 1381.0,1896.8 1394.5,1897.7 1406.6,1898.9 1424.6,1905.8 1436.6,1902.8 1448.6,1898.9 1457.6,1893.8 1466.6,1886.9 1475.6,1884.8 1486.1,1871.3 1493.7,1868.9 1502.7,1871.3 1511.7,1858.7 1522.2,1866.8 1532.7,1861.7 1544.7,1859.3 1555.2,1867.7 1567.2,1862.3 1580.7,1855.7 1592.8,1847.3 1604.8,1835.2 1616.8,1823.2 1624.3,1808.2 1632.1,1782.7 1636.0,1797.7 1643.5,1817.2 1654.0,1821.7 1664.5,1818.7 1675.0,1823.8 1687.1,1832.2 1697.6,1835.8 1709.6,1844.3 1720.1,1847.9 1732.1,1842.8 1742.6,1829.2 1752.5,1817.2 1762.1,1823.2 1774.2,1835.8 1784.7,1829.2 1795.2,1837.6 1807.2,1842.8 1819.2,1837.6 1834.2,1839.7 1852.2,1847.3 1867.3,1848.8 1882.3,1850.9 1894.3,1844.3 1903.3,1855.7 1912.3,1868.3 1922.8,1875.8 1936.3,1880.3 1948.3,1892.3 1960.4,1898.9 1972.4,1893.8 1981.4,1889.3 1993.4,1888.7 2003.9,1887.8 2015.9,1895.3 2026.4,1902.8 2038.4,1900.7 2050.5,1901.3 2059.5,1905.8 2070.0,1902.8 2080.5,1907.3 2092.5,1911.8 2104.5,1912.7 2122.5,1919.3 2134.5,1923.8 2146.6,1943.4 2157.1,1941.9 2170.6,1948.8 2179.6,1946.4 2190.1,1941.9 2200.6,1942.8 2211.1,1944.9 2223.1,1944.9 2233.7,1931.3 2244.2,1926.8 2256.2,1923.8 2266.7,1913.9 2278.7,1920.8 2289.2,1926.8 2299.1,1922.3 2300.0,1922.3 2300.0,2007.0 169.5,2007.0" fill="#a9d0f0"/>
<polygon points="169.5,1798.6 177.0,1821.7 189.0,1804.6 199.6,1798.6 210.1,1817.2 222.1,1825.6 234.1,1820.2 244.6,1816.6 255.1,1816.6 265.6,1811.2 276.1,1804.6 286.6,1808.8 298.7,1807.6 309.2,1809.7 320.6,1814.2 331.7,1808.2 342.2,1804.6 357.2,1797.7 366.2,1788.7 375.2,1775.2 385.8,1759.6 396.3,1727.1 405.3,1724.7 417.3,1724.1 429.3,1697.7 438.3,1736.1 447.3,1754.2 456.3,1761.7 463.8,1760.2 472.8,1746.6 483.4,1781.2 495.4,1787.2 505.9,1805.2 516.4,1820.8 528.4,1826.8 538.9,1823.2 552.4,1823.8 561.4,1824.7 571.1,1804.6 581.0,1814.2 593.0,1823.2 603.5,1836.7 615.5,1843.7 627.5,1850.9 636.5,1849.7 647.0,1871.3 657.5,1893.8 669.0,1893.8 680.1,1878.8 690.6,1876.7 702.6,1871.3 714.0,1866.8 725.1,1883.3 734.1,1883.3 746.1,1873.7 756.7,1878.8 768.7,1881.8 777.7,1880.9 789.7,1877.9 800.2,1881.8 810.7,1884.8 822.7,1874.9 834.7,1871.3 844.4,1875.8 855.8,1850.3 867.8,1865.9 878.3,1873.7 890.0,1877.3 899.0,1878.8 908.0,1889.3 920.0,1899.8 930.5,1893.8 944.1,1890.8 954.6,1900.7 963.6,1896.8 974.1,1893.8 986.1,1891.7 998.1,1898.9 1010.1,1898.9 1022.1,1898.3 1034.2,1901.9 1052.2,1901.9 1064.2,1907.3 1076.2,1911.8 1088.2,1910.9 1100.2,1910.9 1112.2,1912.7 1124.3,1910.3 1139.3,1907.3 1151.3,1914.8 1161.8,1910.9 1172.3,1917.8 1184.3,1923.8 1196.3,1927.7 1205.3,1924.7 1215.9,1935.9 1227.9,1943.4 1238.4,1941.0 1248.9,1938.0 1259.4,1943.4 1271.4,1946.4 1283.4,1945.8 1293.9,1938.9 1304.4,1932.8 1315.0,1928.3 1325.5,1930.7 1337.5,1931.9 1348.0,1933.8 1358.5,1928.9 1369.0,1925.3 1381.0,1928.9 1394.5,1928.3 1406.6,1929.8 1424.6,1934.4 1436.6,1932.8 1448.6,1929.8 1457.6,1924.7 1466.6,1919.3 1475.6,1918.7 1486.1,1905.8 1493.7,1901.9 1502.7,1900.7 1511.7,1887.8 1522.2,1895.3 1532.7,1891.7 1544.7,1889.9 1555.2,1895.9 1567.2,1892.3 1580.7,1887.8 1592.8,1880.3 1604.8,1871.3 1616.8,1859.3 1624.3,1847.3 1632.1,1824.7 1636.0,1838.2 1643.5,1853.3 1654.0,1854.8 1664.5,1857.8 1675.0,1863.8 1687.1,1871.3 1697.6,1874.9 1709.6,1880.3 1720.1,1882.7 1732.1,1880.3 1742.6,1868.3 1752.5,1856.3 1762.1,1862.3 1774.2,1870.7 1784.7,1866.8 1795.2,1872.8 1807.2,1878.8 1819.2,1875.8 1834.2,1878.8 1852.2,1883.9 1867.3,1886.9 1882.3,1889.3 1894.3,1882.7 1903.3,1892.3 1912.3,1902.8 1922.8,1909.7 1936.3,1915.7 1948.3,1924.7 1960.4,1930.7 1972.4,1925.3 1981.4,1921.7 1993.4,1920.8 2003.9,1919.3 2015.9,1926.8 2026.4,1933.8 2038.4,1934.4 2050.5,1934.4 2059.5,1935.9 2070.0,1931.9 2080.5,1935.9 2092.5,1941.0 2104.5,1941.9 2122.5,1950.9 2134.5,1955.4 2146.6,1971.9 2157.1,1970.4 2170.6,1978.8 2179.6,1977.0 2190.1,1971.9 2200.6,1970.4 2211.1,1971.9 2223.1,1971.9 2233.7,1959.9 2244.2,1954.8 2256.2,1950.9 2266.7,1944.0 2278.7,1949.4 2289.2,1954.8 2299.1,1948.8 2300.0,1948.8 2300.0,2007.0 169.5,2007.0" fill="#093a66"/>
<polyline points="1336.5,843.0 1361.0,846.6 1421.7,847.5 1499.7,848.3 1509.4,851.4 1533.7,852.4 1558.1,856.3 1577.6,860.4 1587.3,856.3 1604.4,856.3 1623.8,859.2 1630.0,860.0 1642.0,860.0 1654.0,856.4 1664.5,854.6 1678.1,857.0 1696.1,859.4 1720.1,861.5 1750.1,863.6 1780.2,866.0 1810.2,868.4 1834.2,867.5 1858.2,866.0 1873.3,865.4 1900.3,867.5 1930.3,872.0 1936.3,870.5 1954.4,872.9 1972.4,876.6 1984.4,878.1 2002.4,875.0 2032.4,875.0 2056.5,873.5 2073.0,872.6 2079.0,870.5 2092.5,874.4 2110.5,875.0 2124.0,877.2 2134.5,874.4 2152.6,872.0 2167.6,869.0 2179.6,867.5 2200.6,868.4 2218.6,870.5 2230.6,870.5 2248.7,873.5 2260.7,872.0 2275.7,868.4 2287.7,867.5 2300.0,869.0" fill="none" stroke="#111" stroke-width="3.0"/>
<polyline points="169.5,852.5 220.6,851.9 231.1,910.5 240.1,908.7 255.1,911.7 270.1,911.1 285.1,911.7 294.2,909.9 312.2,911.1 330.2,911.7 342.2,908.7 351.2,909.3 364.7,914.1 378.2,910.5 393.3,907.5 406.8,907.5 420.3,902.1 429.3,902.1 438.3,905.7 450.3,911.1 465.3,910.5 472.8,910.5 483.4,914.1 492.4,910.5 504.4,909.6 514.9,910.5 528.4,913.2 537.4,912.3 549.4,909.3 565.9,908.1 581.0,905.1 590.0,907.5 600.5,911.7 615.5,916.5 627.5,920.1 635.0,918.0 645.5,923.7 659.1,931.5 666.6,927.6 678.6,925.5 690.6,923.1 705.6,917.1 720.6,914.7 734.1,911.7 746.1,911.7 755.2,926.1 765.7,933.6 777.7,935.1 789.7,940.5 800.2,947.7 810.7,953.1 822.7,945.6 833.2,940.5 843.8,938.1 855.8,925.5 864.8,929.1 876.8,939.6 890.0,941.7 905.0,945.6 920.0,952.5 935.0,958.5 944.1,959.1 959.1,969.7 974.1,977.8 986.7,986.2 996.6,975.7 1008.6,977.2 1019.1,979.6 1029.7,973.6 1040.2,969.7 1052.2,977.2 1064.2,984.7 1073.2,995.2 1085.2,1001.2 1097.2,1004.2 1106.2,1001.2 1121.2,1007.2 1134.8,1013.2 1148.3,1017.7 1160.3,1026.7 1172.3,1040.2 1182.8,1044.7 1193.3,1050.7 1205.3,1031.8 1215.9,1026.7 1226.4,1030.6 1238.4,1028.2 1250.4,1008.7 1263.9,995.2 1280.4,991.3 1286.4,1004.2 1292.4,1025.2 1302.9,1047.7 1316.5,1052.8 1325.5,1054.6 1336.0,1059.7 1346.5,1056.7 1357.0,1064.3 1370.5,1077.8 1382.5,1085.3 1393.0,1083.8 1402.1,1076.9 1412.6,1081.7 1423.1,1085.3 1433.6,1085.9 1445.6,1092.8 1459.1,1080.8 1471.1,1082.9 1481.6,1085.3 1490.6,1078.7 1499.7,1080.8 1513.2,1076.3 1523.7,1088.9 1535.7,1086.8 1546.2,1091.9 1558.2,1100.3 1565.7,1100.9 1577.7,1095.8 1589.8,1083.8 1601.8,1067.3 1610.8,1053.7 1619.8,1044.7 1630.0,1017.7 1636.0,1022.2 1643.5,1034.2 1654.0,1004.2 1664.5,976.6 1675.0,1007.2 1687.1,1034.2 1697.6,1028.2 1708.7,1058.2 1718.6,1056.7 1730.6,1048.6 1744.1,1048.6 1753.1,1046.2 1762.1,1041.7 1774.2,1023.7 1786.2,1022.2 1796.7,1037.2 1807.2,1032.7 1819.2,1031.8 1831.2,1043.8 1840.2,1049.2 1852.2,1055.2 1864.3,1053.7 1882.3,1053.7 1895.8,1049.2 1906.3,1052.2 1918.3,1057.6 1927.3,1054.6 1942.3,1058.2 1954.4,1059.7 1960.4,1058.2 1972.4,1050.7 1984.4,1050.7 1993.4,1053.7 2005.4,1072.7 2015.9,1069.7 2026.4,1072.7 2039.9,1076.3 2058.0,1077.8 2068.5,1071.8 2080.5,1064.3 2092.5,1068.8 2101.5,1065.8 2113.5,1070.9 2125.5,1073.9 2136.0,1070.3 2143.6,1055.2 2155.6,1043.2 2167.6,1035.7 2176.6,1037.2 2188.6,1043.8 2200.6,1044.7 2212.6,1042.6 2223.1,1030.6 2233.7,1032.7 2254.7,1035.7 2266.7,1042.6 2278.7,1025.2 2289.2,1017.7 2299.1,1019.2 2300.0,1019.2" fill="none" stroke="#0a0a0a" stroke-width="3.3"/>
<polyline points="169.5,1017.7 177.0,1026.7 189.0,1016.2 199.6,1013.8 211.6,1023.7 221.5,1027.6 232.6,1074.8 240.1,1068.8 253.6,1064.9 264.1,1058.8 276.1,1050.7 288.1,1055.2 298.7,1050.7 309.2,1043.2 321.2,1052.2 333.2,1057.6 345.2,1061.2 357.2,1060.6 364.7,1056.7 375.2,1044.7 387.3,1035.7 399.3,1027.6 411.3,1024.6 435.3,1023.7 453.3,1028.2 471.3,1025.8 483.4,1036.6 493.9,1034.8 505.9,1044.7 519.4,1058.2 538.9,1063.7 555.4,1058.8 567.5,1056.7 581.0,1055.8 594.5,1061.9 603.5,1064.9 618.5,1056.7 627.5,1053.7 636.5,1058.2 650.0,1068.8 657.5,1065.8 671.1,1050.7 683.1,1044.7 692.1,1039.6 705.6,1043.8 722.1,1046.2 734.1,1038.7 746.1,1028.2 756.7,1052.8 768.7,1047.7 786.7,1044.7 810.7,1042.6 822.7,1026.7 843.8,1028.8 855.8,1008.7 866.3,1014.7 876.8,1026.7 890.0,1019.8 908.0,1018.6 920.0,1026.7 932.0,1030.6 942.6,1029.7 953.1,1037.2 962.1,1046.2 974.1,1052.8 986.7,1061.2 996.6,1054.6 1008.6,1064.3 1019.1,1072.7 1029.7,1077.8 1040.2,1080.8 1049.2,1091.3 1058.2,1103.3 1067.2,1116.8 1074.7,1125.8 1085.2,1118.9 1097.2,1127.3 1106.2,1131.8 1113.7,1139.3 1121.2,1152.8 1130.3,1166.4 1139.3,1169.4 1148.3,1182.9 1157.3,1194.9 1163.3,1205.4 1172.3,1194.9 1182.8,1205.4 1196.3,1220.4 1205.3,1216.8 1214.4,1233.5 1226.4,1250.0 1238.4,1265.0 1248.9,1278.6 1254.9,1298.1 1262.4,1331.1 1270.8,1364.8 1280.4,1352.1 1292.4,1350.6 1299.9,1319.1 1305.9,1286.1 1315.0,1260.5 1324.0,1275.6 1336.9,1235.0 1348.0,1265.0 1358.5,1260.5 1370.5,1248.5 1381.9,1236.5 1390.0,1251.5 1400.6,1248.5 1412.6,1265.0 1423.1,1278.6 1433.6,1278.6 1445.6,1277.1 1456.1,1269.6 1466.6,1260.5 1477.1,1259.0 1490.6,1241.0 1502.7,1243.4 1513.2,1241.6 1523.7,1250.0 1535.7,1248.5 1544.7,1242.5 1556.7,1256.0 1568.7,1252.4 1580.7,1247.0 1600.3,1240.4 1610.8,1223.0 1619.8,1205.4 1630.0,1179.9 1642.0,1190.4 1652.5,1158.9 1664.5,1155.9 1675.0,1188.9 1687.1,1214.4 1697.6,1218.9 1709.6,1239.0 1718.6,1238.4 1730.6,1230.9 1741.1,1230.0 1750.1,1224.9 1762.1,1215.9 1774.2,1209.9 1784.7,1203.3 1795.2,1236.9 1805.7,1221.9 1816.2,1220.4 1828.2,1218.9 1840.2,1211.4 1852.2,1213.8 1864.3,1210.8 1882.3,1209.9 1894.3,1209.9 1906.3,1215.9 1916.8,1221.9 1927.3,1217.4 1942.3,1219.8 1954.4,1218.9 1961.9,1215.9 1972.4,1205.4 1982.0,1198.8 1991.9,1209.9 2005.4,1230.5 2017.4,1236.5 2026.4,1239.5 2039.9,1250.0 2050.5,1259.0 2059.5,1267.5 2070.0,1262.6 2080.5,1261.4 2091.0,1257.5 2101.5,1262.9 2113.5,1270.5 2125.5,1278.6 2137.5,1286.1 2146.6,1289.7 2158.6,1296.6 2170.6,1299.6 2185.6,1298.7 2196.1,1302.6 2206.6,1308.6 2215.6,1314.6 2223.1,1323.6 2233.7,1314.6 2244.2,1301.1 2254.7,1297.5 2266.7,1298.7 2275.7,1314.6 2287.7,1334.1 2299.1,1336.5 2300.0,1336.5" fill="none" stroke="#0a0a0a" stroke-width="2.6"/>
<polyline points="169.5,1398.7 177.0,1419.7 189.0,1403.2 199.6,1394.2 211.6,1410.7 221.5,1412.2 234.1,1428.7 249.1,1421.2 264.1,1400.2 276.1,1388.8 288.1,1401.7 298.7,1396.6 307.7,1392.7 324.2,1403.8 333.2,1399.6 345.2,1395.7 360.2,1389.7 372.2,1373.2 384.3,1358.8 396.3,1331.1 405.3,1328.1 417.3,1326.6 429.3,1309.5 438.3,1328.1 447.3,1341.6 456.3,1349.7 465.3,1346.7 474.4,1346.7 480.4,1370.2 489.4,1389.7 499.9,1403.2 510.4,1415.2 522.4,1424.2 538.9,1425.7 552.4,1419.7 564.4,1411.6 572.0,1409.8 581.0,1421.2 593.0,1422.7 603.5,1427.2 618.5,1431.7 633.5,1432.6 645.5,1443.7 657.5,1460.3 668.1,1472.9 680.1,1449.7 690.6,1445.8 702.6,1455.8 720.6,1457.9 734.1,1443.7 746.1,1442.8 756.7,1448.2 768.7,1455.8 780.7,1451.2 792.7,1447.6 800.2,1451.2 810.7,1443.7 822.7,1427.8 833.2,1428.7 843.8,1452.8 855.8,1430.8 866.3,1448.8 876.8,1478.3 890.0,1475.3 900.5,1484.3 909.5,1496.3 918.5,1503.8 927.5,1497.8 938.1,1493.3 953.1,1494.8 963.6,1481.3 974.1,1468.7 986.1,1461.8 996.6,1477.7 1008.6,1479.8 1019.1,1484.3 1031.2,1491.8 1043.2,1499.3 1053.7,1509.8 1064.2,1520.3 1073.2,1526.3 1085.2,1529.3 1097.2,1536.8 1107.7,1545.9 1118.2,1556.4 1130.3,1565.4 1139.3,1569.9 1148.3,1581.9 1157.3,1589.4 1166.3,1591.8 1175.3,1593.9 1185.8,1605.9 1196.3,1622.4 1205.3,1616.4 1215.9,1635.9 1229.4,1658.5 1238.4,1646.5 1248.9,1642.9 1254.9,1655.5 1259.4,1658.1 1271.4,1682.1 1280.4,1677.6 1289.4,1676.1 1298.4,1667.1 1309.0,1649.0 1315.0,1637.6 1325.5,1641.5 1337.5,1640.0 1348.0,1655.0 1358.5,1659.6 1370.5,1661.1 1382.5,1664.1 1390.0,1659.6 1400.6,1665.6 1412.6,1670.1 1423.1,1673.1 1433.6,1668.6 1445.6,1667.1 1454.6,1661.1 1463.6,1649.0 1472.6,1641.5 1483.1,1635.5 1490.6,1622.0 1502.7,1631.0 1513.2,1620.5 1523.7,1631.0 1535.7,1619.0 1544.7,1605.9 1555.2,1620.9 1565.7,1608.9 1580.7,1599.0 1592.8,1593.9 1604.8,1583.4 1616.8,1566.9 1625.8,1557.9 1632.1,1526.9 1642.0,1575.9 1652.5,1569.9 1663.0,1578.9 1675.0,1590.9 1687.1,1599.0 1697.6,1599.9 1708.7,1610.4 1718.6,1613.4 1730.6,1599.9 1742.6,1583.4 1752.5,1572.9 1762.1,1580.4 1774.2,1595.4 1784.7,1584.0 1795.2,1605.0 1807.2,1600.8 1819.2,1597.8 1834.2,1599.0 1852.2,1605.9 1867.3,1599.0 1882.3,1596.0 1894.3,1588.8 1903.3,1602.9 1913.8,1619.0 1925.8,1626.5 1936.3,1632.5 1948.3,1636.4 1960.4,1639.4 1972.4,1624.4 1981.4,1618.4 1993.4,1617.5 2003.9,1614.5 2015.9,1622.0 2026.4,1628.6 2038.4,1627.4 2050.5,1634.6 2059.5,1639.4 2070.0,1631.6 2080.5,1640.0 2092.5,1646.0 2104.5,1643.0 2116.5,1646.0 2128.5,1649.0 2137.5,1659.6 2148.1,1680.6 2158.6,1684.5 2170.6,1688.7 2179.6,1688.7 2190.1,1677.6 2200.6,1681.5 2211.1,1686.6 2223.1,1698.6 2233.7,1691.7 2244.2,1687.5 2256.2,1692.6 2266.7,1684.5 2278.7,1692.6 2290.7,1698.6 2299.1,1691.1 2300.0,1691.1" fill="none" stroke="#0a0a0a" stroke-width="3.2"/>
<polyline points="169.5,1542.8 177.0,1560.9 189.0,1545.9 198.1,1535.3 210.1,1547.4 221.5,1556.4 232.6,1572.0 249.1,1562.4 264.1,1549.8 276.1,1545.9 288.1,1548.9 298.7,1545.9 307.7,1542.8 321.2,1562.4 333.2,1559.4 345.2,1553.4 360.2,1547.4 372.2,1533.8 387.3,1515.8 396.3,1497.8 405.3,1491.8 417.3,1497.8 429.3,1491.8 439.8,1517.3 451.8,1527.8 462.3,1523.3 472.8,1519.7 483.4,1548.9 495.4,1560.9 505.9,1577.4 516.4,1593.9 526.9,1599.0 538.9,1604.4 552.4,1599.0 564.4,1597.8 573.5,1587.9 584.0,1598.4 597.5,1604.4 612.5,1611.9 627.5,1616.4 639.5,1617.9 651.5,1639.0 663.6,1657.9 672.6,1652.5 683.1,1632.9 693.6,1634.4 708.6,1640.5 723.6,1646.5 735.6,1626.9 747.6,1627.8 762.7,1632.0 770.2,1635.0 780.7,1632.9 795.7,1622.4 810.7,1608.9 822.7,1593.9 833.2,1604.4 845.3,1625.4 855.8,1596.9 866.3,1608.9 878.3,1637.5 890.0,1636.4 900.5,1646.0 911.0,1656.6 921.5,1663.5 930.5,1654.4 939.6,1644.5 953.1,1652.0 963.6,1640.0 974.1,1632.5 986.1,1625.6 996.6,1640.0 1008.6,1641.5 1022.1,1642.4 1034.2,1644.5 1043.2,1649.0 1053.7,1658.1 1064.2,1668.6 1073.2,1673.1 1085.2,1676.1 1097.2,1685.1 1107.7,1694.1 1118.2,1704.6 1130.3,1709.1 1139.3,1712.1 1151.3,1728.6 1163.3,1730.1 1172.3,1726.5 1184.3,1736.1 1196.3,1748.8 1205.3,1736.1 1215.9,1748.1 1227.9,1763.2 1238.4,1754.8 1248.9,1751.2 1259.4,1769.2 1272.9,1782.7 1281.9,1779.7 1292.4,1784.2 1302.9,1776.7 1313.5,1754.2 1325.5,1763.2 1337.5,1760.2 1348.0,1776.7 1358.5,1779.7 1370.5,1781.2 1381.0,1790.2 1390.0,1784.2 1400.6,1784.8 1412.6,1788.7 1424.6,1799.2 1436.6,1794.7 1448.6,1793.2 1457.6,1791.7 1466.6,1778.2 1475.6,1770.7 1486.1,1760.2 1496.7,1758.7 1504.2,1751.2 1513.2,1752.7 1523.7,1765.6 1535.7,1751.2 1544.7,1736.1 1555.2,1746.6 1565.7,1733.1 1577.7,1727.1 1589.8,1723.5 1604.8,1712.1 1616.8,1704.6 1624.3,1697.1 1632.1,1661.1 1636.0,1677.6 1643.5,1707.6 1654.0,1700.1 1664.5,1694.1 1675.0,1707.6 1687.1,1721.1 1697.6,1723.5 1708.7,1733.1 1720.1,1733.1 1732.1,1725.6 1742.6,1713.6 1752.5,1705.5 1762.1,1710.6 1774.2,1715.1 1784.7,1705.5 1795.2,1725.6 1807.2,1719.6 1819.2,1714.5 1834.2,1719.6 1852.2,1725.6 1861.2,1727.7 1870.3,1724.7 1882.3,1720.5 1894.3,1713.6 1903.3,1724.1 1912.3,1739.1 1922.8,1746.6 1936.3,1750.6 1948.3,1751.8 1960.4,1753.6 1972.4,1743.6 1981.4,1737.6 1993.4,1736.1 2003.9,1736.1 2015.9,1742.1 2026.4,1748.1 2038.4,1746.6 2050.5,1752.7 2059.5,1757.2 2070.0,1748.1 2080.5,1755.7 2092.5,1754.8 2104.5,1754.2 2122.5,1755.7 2134.5,1763.2 2146.6,1774.6 2157.1,1776.7 2170.6,1785.7 2179.6,1784.8 2190.1,1780.6 2200.6,1781.8 2211.1,1781.8 2223.1,1790.8 2233.7,1785.7 2244.2,1783.6 2256.2,1788.7 2266.7,1788.7 2278.7,1790.8 2289.2,1794.7 2299.1,1789.6 2300.0,1789.6" fill="none" stroke="#0a0a0a" stroke-width="3.2"/>
<polyline points="169.5,1625.0 177.0,1647.5 189.0,1628.0 199.6,1615.4 210.1,1634.0 222.1,1640.0 232.6,1656.6 243.1,1652.0 255.1,1650.5 264.1,1643.0 274.6,1640.0 286.6,1652.0 297.2,1649.0 307.7,1652.0 321.2,1664.1 331.7,1658.7 342.2,1656.6 357.2,1643.0 366.2,1635.5 378.2,1617.5 384.3,1607.4 399.3,1577.4 408.3,1572.9 417.3,1568.4 429.3,1556.4 438.3,1580.4 450.3,1608.9 462.3,1611.9 472.8,1607.4 483.4,1640.0 495.4,1652.0 505.9,1670.1 516.4,1685.7 528.4,1691.7 538.9,1688.7 552.4,1683.6 562.9,1680.6 571.1,1661.1 582.5,1677.6 593.0,1685.1 603.5,1695.6 615.5,1701.6 627.5,1710.6 636.5,1707.6 648.5,1734.6 657.5,1752.7 669.0,1759.6 680.1,1731.6 693.6,1729.5 714.6,1728.6 725.1,1742.7 734.1,1731.6 746.1,1726.5 756.7,1730.1 768.7,1735.5 777.7,1733.7 789.7,1728.6 800.2,1736.7 810.7,1737.6 822.7,1723.5 834.7,1722.6 844.4,1738.5 855.8,1706.7 867.8,1725.6 878.3,1741.5 890.0,1739.1 899.0,1741.5 908.0,1752.7 920.0,1761.7 930.5,1754.2 941.1,1751.2 953.1,1764.7 963.6,1757.2 974.1,1752.7 986.1,1751.2 998.1,1758.7 1010.1,1761.7 1022.1,1763.2 1034.2,1764.7 1052.2,1772.2 1064.2,1782.7 1076.2,1790.2 1085.2,1793.2 1097.2,1792.6 1107.7,1799.2 1118.2,1805.2 1130.3,1808.2 1139.3,1808.8 1151.3,1821.7 1161.8,1823.8 1172.3,1833.7 1184.3,1845.8 1196.3,1850.3 1205.3,1847.3 1215.9,1868.3 1227.9,1883.3 1238.4,1877.3 1248.9,1875.8 1259.4,1887.8 1271.4,1895.3 1283.4,1899.8 1293.9,1886.3 1304.4,1868.3 1315.0,1857.8 1325.5,1862.3 1337.5,1862.9 1348.0,1870.7 1358.5,1863.8 1369.0,1853.3 1381.0,1865.3 1394.5,1866.8 1406.6,1866.8 1424.6,1873.7 1436.6,1871.3 1448.6,1868.3 1457.6,1863.8 1466.6,1854.8 1475.6,1852.7 1486.1,1838.2 1493.7,1831.6 1502.7,1830.7 1511.7,1817.2 1522.2,1827.7 1532.7,1823.8 1544.7,1820.2 1555.2,1828.6 1567.2,1821.7 1580.7,1814.2 1592.8,1808.2 1604.8,1797.7 1616.8,1784.2 1624.3,1772.2 1632.1,1739.1 1636.0,1755.7 1643.5,1778.2 1654.0,1775.8 1664.5,1772.2 1675.0,1782.7 1687.1,1793.8 1697.6,1796.8 1709.6,1806.7 1720.1,1805.8 1732.1,1802.2 1742.6,1791.7 1752.5,1781.2 1762.1,1784.8 1774.2,1791.7 1784.7,1785.7 1795.2,1799.8 1807.2,1798.6 1819.2,1796.8 1834.2,1801.6 1852.2,1810.6 1867.3,1815.7 1882.3,1817.8 1894.3,1809.7 1903.3,1821.7 1912.3,1833.7 1922.8,1841.9 1936.3,1848.8 1948.3,1859.9 1960.4,1866.8 1972.4,1856.3 1981.4,1850.3 1993.4,1853.3 2003.9,1851.8 2015.9,1860.8 2026.4,1866.8 2038.4,1865.3 2050.5,1868.9 2059.5,1873.7 2070.0,1869.8 2080.5,1874.3 2092.5,1875.8 2104.5,1875.8 2122.5,1881.8 2134.5,1886.3 2146.6,1903.7 2157.1,1908.8 2170.6,1916.3 2179.6,1915.7 2190.1,1910.9 2200.6,1913.9 2211.1,1915.7 2223.1,1915.7 2233.7,1902.8 2244.2,1892.3 2256.2,1887.8 2266.7,1877.9 2278.7,1889.3 2289.2,1897.7 2299.1,1892.3 2300.0,1892.3" fill="none" stroke="#0a0a0a" stroke-width="3.2"/>
<polyline points="169.5,1683.6 177.0,1706.1 189.0,1686.6 199.6,1678.5 210.1,1698.6 222.1,1700.7 234.1,1703.1 252.1,1705.5 264.1,1700.1 274.6,1699.5 286.6,1715.1 297.2,1713.6 307.7,1716.6 320.6,1725.6 331.7,1715.7 342.2,1714.5 357.2,1701.6 364.7,1697.1 376.7,1671.6 385.8,1659.6 396.3,1630.4 408.3,1626.5 417.3,1621.4 429.3,1602.9 433.8,1623.5 439.8,1637.0 450.3,1659.6 462.3,1664.1 472.8,1659.6 483.4,1700.1 495.4,1712.1 505.9,1730.1 516.4,1743.6 526.9,1748.8 538.9,1741.5 552.4,1739.7 562.9,1739.1 571.1,1718.7 581.0,1736.1 593.0,1746.6 603.5,1763.8 615.5,1770.7 627.5,1777.6 636.5,1774.6 647.0,1796.2 657.5,1817.2 669.0,1823.8 680.1,1802.2 690.6,1796.2 702.6,1787.2 714.0,1781.8 725.1,1792.6 734.1,1790.2 746.1,1784.8 756.7,1788.7 768.7,1794.7 777.7,1792.6 789.7,1789.6 800.2,1798.6 810.7,1799.2 822.7,1789.6 834.7,1787.2 844.4,1799.8 855.8,1773.7 867.8,1793.8 878.3,1803.7 890.0,1799.2 899.0,1805.2 908.0,1815.7 920.0,1822.6 930.5,1815.7 941.1,1815.7 953.1,1827.7 963.6,1822.6 974.1,1820.8 986.1,1820.8 996.6,1823.2 1008.6,1817.8 1022.1,1816.6 1034.2,1818.7 1046.2,1823.2 1058.2,1830.7 1070.2,1838.2 1085.2,1843.7 1095.7,1840.6 1107.7,1845.8 1118.2,1847.3 1130.3,1848.8 1139.3,1847.9 1151.3,1856.3 1161.8,1853.9 1172.3,1868.3 1184.3,1878.8 1196.3,1883.9 1205.3,1881.8 1215.9,1902.8 1227.9,1913.3 1238.4,1905.8 1248.9,1903.7 1259.4,1910.3 1271.4,1917.8 1283.4,1924.7 1293.9,1916.3 1304.4,1905.8 1315.0,1901.3 1325.5,1902.8 1337.5,1899.8 1348.0,1902.8 1358.5,1896.8 1369.0,1889.3 1381.0,1896.8 1394.5,1897.7 1406.6,1898.9 1424.6,1905.8 1436.6,1902.8 1448.6,1898.9 1457.6,1893.8 1466.6,1886.9 1475.6,1884.8 1486.1,1871.3 1493.7,1868.9 1502.7,1871.3 1511.7,1858.7 1522.2,1866.8 1532.7,1861.7 1544.7,1859.3 1555.2,1867.7 1567.2,1862.3 1580.7,1855.7 1592.8,1847.3 1604.8,1835.2 1616.8,1823.2 1624.3,1808.2 1632.1,1782.7 1636.0,1797.7 1643.5,1817.2 1654.0,1821.7 1664.5,1818.7 1675.0,1823.8 1687.1,1832.2 1697.6,1835.8 1709.6,1844.3 1720.1,1847.9 1732.1,1842.8 1742.6,1829.2 1752.5,1817.2 1762.1,1823.2 1774.2,1835.8 1784.7,1829.2 1795.2,1837.6 1807.2,1842.8 1819.2,1837.6 1834.2,1839.7 1852.2,1847.3 1867.3,1848.8 1882.3,1850.9 1894.3,1844.3 1903.3,1855.7 1912.3,1868.3 1922.8,1875.8 1936.3,1880.3 1948.3,1892.3 1960.4,1898.9 1972.4,1893.8 1981.4,1889.3 1993.4,1888.7 2003.9,1887.8 2015.9,1895.3 2026.4,1902.8 2038.4,1900.7 2050.5,1901.3 2059.5,1905.8 2070.0,1902.8 2080.5,1907.3 2092.5,1911.8 2104.5,1912.7 2122.5,1919.3 2134.5,1923.8 2146.6,1943.4 2157.1,1941.9 2170.6,1948.8 2179.6,1946.4 2190.1,1941.9 2200.6,1942.8 2211.1,1944.9 2223.1,1944.9 2233.7,1931.3 2244.2,1926.8 2256.2,1923.8 2266.7,1913.9 2278.7,1920.8 2289.2,1926.8 2299.1,1922.3 2300.0,1922.3" fill="none" stroke="#0a0a0a" stroke-width="3.2"/>
<polyline points="169.5,1798.6 177.0,1821.7 189.0,1804.6 199.6,1798.6 210.1,1817.2 222.1,1825.6 234.1,1820.2 244.6,1816.6 255.1,1816.6 265.6,1811.2 276.1,1804.6 286.6,1808.8 298.7,1807.6 309.2,1809.7 320.6,1814.2 331.7,1808.2 342.2,1804.6 357.2,1797.7 366.2,1788.7 375.2,1775.2 385.8,1759.6 396.3,1727.1 405.3,1724.7 417.3,1724.1 429.3,1697.7 438.3,1736.1 447.3,1754.2 456.3,1761.7 463.8,1760.2 472.8,1746.6 483.4,1781.2 495.4,1787.2 505.9,1805.2 516.4,1820.8 528.4,1826.8 538.9,1823.2 552.4,1823.8 561.4,1824.7 571.1,1804.6 581.0,1814.2 593.0,1823.2 603.5,1836.7 615.5,1843.7 627.5,1850.9 636.5,1849.7 647.0,1871.3 657.5,1893.8 669.0,1893.8 680.1,1878.8 690.6,1876.7 702.6,1871.3 714.0,1866.8 725.1,1883.3 734.1,1883.3 746.1,1873.7 756.7,1878.8 768.7,1881.8 777.7,1880.9 789.7,1877.9 800.2,1881.8 810.7,1884.8 822.7,1874.9 834.7,1871.3 844.4,1875.8 855.8,1850.3 867.8,1865.9 878.3,1873.7 890.0,1877.3 899.0,1878.8 908.0,1889.3 920.0,1899.8 930.5,1893.8 944.1,1890.8 954.6,1900.7 963.6,1896.8 974.1,1893.8 986.1,1891.7 998.1,1898.9 1010.1,1898.9 1022.1,1898.3 1034.2,1901.9 1052.2,1901.9 1064.2,1907.3 1076.2,1911.8 1088.2,1910.9 1100.2,1910.9 1112.2,1912.7 1124.3,1910.3 1139.3,1907.3 1151.3,1914.8 1161.8,1910.9 1172.3,1917.8 1184.3,1923.8 1196.3,1927.7 1205.3,1924.7 1215.9,1935.9 1227.9,1943.4 1238.4,1941.0 1248.9,1938.0 1259.4,1943.4 1271.4,1946.4 1283.4,1945.8 1293.9,1938.9 1304.4,1932.8 1315.0,1928.3 1325.5,1930.7 1337.5,1931.9 1348.0,1933.8 1358.5,1928.9 1369.0,1925.3 1381.0,1928.9 1394.5,1928.3 1406.6,1929.8 1424.6,1934.4 1436.6,1932.8 1448.6,1929.8 1457.6,1924.7 1466.6,1919.3 1475.6,1918.7 1486.1,1905.8 1493.7,1901.9 1502.7,1900.7 1511.7,1887.8 1522.2,1895.3 1532.7,1891.7 1544.7,1889.9 1555.2,1895.9 1567.2,1892.3 1580.7,1887.8 1592.8,1880.3 1604.8,1871.3 1616.8,1859.3 1624.3,1847.3 1632.1,1824.7 1636.0,1838.2 1643.5,1853.3 1654.0,1854.8 1664.5,1857.8 1675.0,1863.8 1687.1,1871.3 1697.6,1874.9 1709.6,1880.3 1720.1,1882.7 1732.1,1880.3 1742.6,1868.3 1752.5,1856.3 1762.1,1862.3 1774.2,1870.7 1784.7,1866.8 1795.2,1872.8 1807.2,1878.8 1819.2,1875.8 1834.2,1878.8 1852.2,1883.9 1867.3,1886.9 1882.3,1889.3 1894.3,1882.7 1903.3,1892.3 1912.3,1902.8 1922.8,1909.7 1936.3,1915.7 1948.3,1924.7 1960.4,1930.7 1972.4,1925.3 1981.4,1921.7 1993.4,1920.8 2003.9,1919.3 2015.9,1926.8 2026.4,1933.8 2038.4,1934.4 2050.5,1934.4 2059.5,1935.9 2070.0,1931.9 2080.5,1935.9 2092.5,1941.0 2104.5,1941.9 2122.5,1950.9 2134.5,1955.4 2146.6,1971.9 2157.1,1970.4 2170.6,1978.8 2179.6,1977.0 2190.1,1971.9 2200.6,1970.4 2211.1,1971.9 2223.1,1971.9 2233.7,1959.9 2244.2,1954.8 2256.2,1950.9 2266.7,1944.0 2278.7,1949.4 2289.2,1954.8 2299.1,1948.8 2300.0,1948.8" fill="none" stroke="#0a0a0a" stroke-width="3.2"/>
</g>
<line x1="159.5" y1="843.0" x2="2301.0" y2="843.0" stroke="#1a1a1a" stroke-width="3.6"/>
<line x1="2298.8" y1="843.0" x2="2298.8" y2="2003.0" stroke="#1a1a1a" stroke-width="2.8"/>
<line x1="170.3" y1="843.0" x2="170.3" y2="2003.0" stroke="#444" stroke-width="3"/>
<line x1="168.5" y1="2002.0" x2="2301.0" y2="2002.0" stroke="#0e2a47" stroke-width="3.5"/>
<line x1="158.5" y1="2002.0" x2="169.5" y2="2002.0" stroke="#333" stroke-width="2.5"/>
<text x="137" y="2014.6" text-anchor="end" class="ax">0%</text>
<line x1="158.5" y1="1886.1" x2="169.5" y2="1886.1" stroke="#333" stroke-width="2.5"/>
<text x="137" y="1898.7" text-anchor="end" class="ax">10%</text>
<line x1="158.5" y1="1770.2" x2="169.5" y2="1770.2" stroke="#333" stroke-width="2.5"/>
<text x="137" y="1782.8" text-anchor="end" class="ax">20%</text>
<line x1="158.5" y1="1654.3" x2="169.5" y2="1654.3" stroke="#333" stroke-width="2.5"/>
<text x="137" y="1666.9" text-anchor="end" class="ax">30%</text>
<line x1="158.5" y1="1538.4" x2="169.5" y2="1538.4" stroke="#333" stroke-width="2.5"/>
<text x="137" y="1551.0" text-anchor="end" class="ax">40%</text>
<line x1="158.5" y1="1422.5" x2="169.5" y2="1422.5" stroke="#333" stroke-width="2.5"/>
<text x="137" y="1435.1" text-anchor="end" class="ax">50%</text>
<line x1="158.5" y1="1306.6" x2="169.5" y2="1306.6" stroke="#333" stroke-width="2.5"/>
<text x="137" y="1319.2" text-anchor="end" class="ax">60%</text>
<line x1="158.5" y1="1190.7" x2="169.5" y2="1190.7" stroke="#333" stroke-width="2.5"/>
<text x="137" y="1203.3" text-anchor="end" class="ax">70%</text>
<line x1="158.5" y1="1074.8" x2="169.5" y2="1074.8" stroke="#333" stroke-width="2.5"/>
<text x="137" y="1087.4" text-anchor="end" class="ax">80%</text>
<line x1="158.5" y1="958.9" x2="169.5" y2="958.9" stroke="#333" stroke-width="2.5"/>
<text x="137" y="971.5" text-anchor="end" class="ax">90%</text>
<line x1="158.5" y1="843.0" x2="169.5" y2="843.0" stroke="#333" stroke-width="2.5"/>
<text x="137" y="855.6" text-anchor="end" class="ax">100%</text>
<line x1="169.8" y1="2002.0" x2="169.8" y2="2013.0" stroke="#333" stroke-width="2.5"/>
<text x="170.8" y="2057.5" text-anchor="middle" class="ax">1975</text>
<line x1="388.7" y1="2002.0" x2="388.7" y2="2013.0" stroke="#333" stroke-width="2.5"/>
<text x="389.7" y="2057.5" text-anchor="middle" class="ax">1980</text>
<line x1="607.6" y1="2002.0" x2="607.6" y2="2013.0" stroke="#333" stroke-width="2.5"/>
<text x="608.6" y="2057.5" text-anchor="middle" class="ax">1985</text>
<line x1="826.5" y1="2002.0" x2="826.5" y2="2013.0" stroke="#333" stroke-width="2.5"/>
<text x="827.5" y="2057.5" text-anchor="middle" class="ax">1990</text>
<line x1="1045.4" y1="2002.0" x2="1045.4" y2="2013.0" stroke="#333" stroke-width="2.5"/>
<text x="1046.4" y="2057.5" text-anchor="middle" class="ax">1995</text>
<line x1="1264.3" y1="2002.0" x2="1264.3" y2="2013.0" stroke="#333" stroke-width="2.5"/>
<text x="1265.3" y="2057.5" text-anchor="middle" class="ax">2000</text>
<line x1="1483.2" y1="2002.0" x2="1483.2" y2="2013.0" stroke="#333" stroke-width="2.5"/>
<text x="1484.2" y="2057.5" text-anchor="middle" class="ax">2005</text>
<line x1="1702.1" y1="2002.0" x2="1702.1" y2="2013.0" stroke="#333" stroke-width="2.5"/>
<text x="1703.1" y="2057.5" text-anchor="middle" class="ax">2010</text>
<line x1="1921.0" y1="2002.0" x2="1921.0" y2="2013.0" stroke="#333" stroke-width="2.5"/>
<text x="1922.0" y="2057.5" text-anchor="middle" class="ax">2015</text>
<line x1="2139.9" y1="2002.0" x2="2139.9" y2="2013.0" stroke="#333" stroke-width="2.5"/>
<text x="2140.9" y="2057.5" text-anchor="middle" class="ax">2020</text>
<text x="2370.5" y="886.0" class="lg" textLength="250.5" lengthAdjust="spacingAndGlyphs">Real Estate 2%</text>
<text x="2367.0" y="955.0" class="lg" textLength="253.0" lengthAdjust="spacingAndGlyphs">Financials 13%</text>
<text x="2367.0" y="1175.8" class="lg" textLength="235.7" lengthAdjust="spacingAndGlyphs">Info Tech 27%</text>
<text x="2370.5" y="1399.5" class="lg" textLength="274.5" lengthAdjust="spacingAndGlyphs">Health Care 13%</text>
<text x="2364.3" y="1527.0" class="lg" textLength="370.1" lengthAdjust="spacingAndGlyphs">Consumer Staples 7%</text>
<text x="2369.6" y="1636.9" class="lg" textLength="491.1" lengthAdjust="spacingAndGlyphs">Consumer Discretionary 11%</text>
<text x="2367.0" y="1757.4" class="lg" textLength="238.8" lengthAdjust="spacingAndGlyphs">Industrials 8%</text>
<text x="2364.3" y="1860.5" class="lg" textLength="482.6" lengthAdjust="spacingAndGlyphs">Communication Services 9%</text>
<text x="2362.5" y="1922.0" class="lg" textLength="186.5" lengthAdjust="spacingAndGlyphs">Utilities 2%</text>
<text x="2367.0" y="1970.0" class="lg" textLength="212.5" lengthAdjust="spacingAndGlyphs">Materials 2%</text>
<text x="2367.0" y="2016.8" class="lg" textLength="179.0" lengthAdjust="spacingAndGlyphs">Energy 5%</text>
<text x="1526.5" y="926.7" text-anchor="middle" class="il" fill="#ffffff">Financials</text>
<text x="1526.5" y="973.5" text-anchor="middle" class="il" fill="#ffffff">Bubble</text>
<text x="1526.5" y="1019.8" text-anchor="middle" class="il" fill="#ffffff">22%</text>
<text x="1296.5" y="1124.3" text-anchor="middle" class="il" fill="#111111">Tech</text>
<text x="1296.5" y="1170.8" text-anchor="middle" class="il" fill="#111111">Bubble</text>
<text x="1296.5" y="1216.8" text-anchor="middle" class="il" fill="#111111">33%</text>
<text x="431.3" y="1873.0" text-anchor="middle" class="il" fill="#ffffff">Energy</text>
<text x="431.3" y="1919.3" text-anchor="middle" class="il" fill="#ffffff">Bubble</text>
<text x="431.3" y="1965.3" text-anchor="middle" class="il" fill="#ffffff">26%</text>
<circle cx="57.2" cy="65.6" r="9.6" fill="#c9a060"/>
<text y="93.0" class="bd"><tspan x="105.5" textLength="78.0" lengthAdjust="spacingAndGlyphs">US</tspan> <tspan x="191.5" textLength="153.0" lengthAdjust="spacingAndGlyphs">Tech</tspan> <tspan x="360.5" textLength="350.5" lengthAdjust="spacingAndGlyphs">companies</tspan> <tspan x="727.5" textLength="176.0" lengthAdjust="spacingAndGlyphs">make</tspan> <tspan x="920.5" textLength="78.0" lengthAdjust="spacingAndGlyphs">for</tspan> <tspan x="1021.5" textLength="79.5" lengthAdjust="spacingAndGlyphs">an</tspan> <tspan x="1119.0" textLength="337.0" lengthAdjust="spacingAndGlyphs">ever-larger</tspan> <tspan x="1479.0" textLength="214.5" lengthAdjust="spacingAndGlyphs">market</tspan> <tspan x="1714.0" textLength="168.5" lengthAdjust="spacingAndGlyphs">share</tspan> <tspan x="1900.5" textLength="138.0" lengthAdjust="spacingAndGlyphs">(S&amp;P</tspan> <tspan x="2059.0" textLength="143.5" lengthAdjust="spacingAndGlyphs">500),</tspan> <tspan x="2224.0" textLength="132.0" lengthAdjust="spacingAndGlyphs">now</tspan> <tspan x="2376.5" textLength="269.5" lengthAdjust="spacingAndGlyphs">standing</tspan> <tspan x="2661.5" textLength="69.5" lengthAdjust="spacingAndGlyphs">at</tspan> <tspan x="2744.0" textLength="139.5" lengthAdjust="spacingAndGlyphs">27%.</tspan></text>
<circle cx="57.2" cy="199.4" r="9.6" fill="#c9a060"/>
<text y="226.8" class="bd"><tspan x="102.5" textLength="78.5" lengthAdjust="spacingAndGlyphs">As</tspan> <tspan x="194.0" textLength="199.5" lengthAdjust="spacingAndGlyphs">shown</tspan> <tspan x="411.5" textLength="207.0" lengthAdjust="spacingAndGlyphs">below,</tspan> <tspan x="639.0" textLength="194.5" lengthAdjust="spacingAndGlyphs">history</tspan> <tspan x="846.5" textLength="177.0" lengthAdjust="spacingAndGlyphs">tends</tspan> <tspan x="1039.0" textLength="64.5" lengthAdjust="spacingAndGlyphs">to</tspan> <tspan x="1119.0" textLength="164.5" lengthAdjust="spacingAndGlyphs">show</tspan> <tspan x="1300.0" textLength="62.5" lengthAdjust="spacingAndGlyphs">us</tspan> <tspan x="1376.5" textLength="127.0" lengthAdjust="spacingAndGlyphs">that</tspan> <tspan x="1521.5" textLength="194.5" lengthAdjust="spacingAndGlyphs">sector</tspan> <tspan x="1731.5" textLength="442.0" lengthAdjust="spacingAndGlyphs">concentration</tspan> <tspan x="2191.5" textLength="104.5" lengthAdjust="spacingAndGlyphs">are</tspan> <tspan x="2314.0" textLength="197.0" lengthAdjust="spacingAndGlyphs">usually</tspan> <tspan x="2531.5" textLength="274.5" lengthAdjust="spacingAndGlyphs">followed</tspan> <tspan x="2824.0" textLength="77.0" lengthAdjust="spacingAndGlyphs">by</tspan> <tspan x="2919.0" textLength="222.0" lengthAdjust="spacingAndGlyphs">market</tspan> <tspan x="3159.0" textLength="262.0" lengthAdjust="spacingAndGlyphs">bubbles.</tspan></text>
<circle cx="57.2" cy="333.9" r="9.6" fill="#c9a060"/>
<text y="361.3" class="bd"><tspan x="104.0" textLength="287.0" lengthAdjust="spacingAndGlyphs">However,</tspan> <tspan x="414.0" textLength="102.0" lengthAdjust="spacingAndGlyphs">the</tspan> <tspan x="531.5" textLength="227.0" lengthAdjust="spacingAndGlyphs">current</tspan> <tspan x="766.5" textLength="153.0" lengthAdjust="spacingAndGlyphs">Tech</tspan> <tspan x="936.5" textLength="444.5" lengthAdjust="spacingAndGlyphs">concentration</tspan> <tspan x="1404.0" textLength="35.5" lengthAdjust="spacingAndGlyphs">is</tspan> <tspan x="1451.5" textLength="89.5" lengthAdjust="spacingAndGlyphs">still</tspan> <tspan x="1556.5" textLength="239.5" lengthAdjust="spacingAndGlyphs">notably</tspan> <tspan x="1811.5" textLength="167.0" lengthAdjust="spacingAndGlyphs">lower</tspan> <tspan x="1995.0" textLength="144.0" lengthAdjust="spacingAndGlyphs">than</tspan> <tspan x="2154.5" textLength="133.5" lengthAdjust="spacingAndGlyphs">that</tspan> <tspan x="2301.0" textLength="64.5" lengthAdjust="spacingAndGlyphs">of</tspan> <tspan x="2380.5" textLength="103.5" lengthAdjust="spacingAndGlyphs">the</tspan> <tspan x="2499.0" textLength="157.0" lengthAdjust="spacingAndGlyphs">early</tspan> <tspan x="2669.0" textLength="184.5" lengthAdjust="spacingAndGlyphs">2000s.</tspan></text>
<circle cx="57.2" cy="468.2" r="9.6" fill="#c9a060"/>
<text y="495.6" class="bd"><tspan x="105.5" textLength="150.5" lengthAdjust="spacingAndGlyphs">Even</tspan> <tspan x="274.0" textLength="35.5" lengthAdjust="spacingAndGlyphs">if</tspan> <tspan x="324.0" textLength="164.5" lengthAdjust="spacingAndGlyphs">there</tspan> <tspan x="505.5" textLength="38.0" lengthAdjust="spacingAndGlyphs">is</tspan> <tspan x="559.0" textLength="47.0" lengthAdjust="spacingAndGlyphs">a</tspan> <tspan x="621.5" textLength="222.0" lengthAdjust="spacingAndGlyphs">bubble</tspan> <tspan x="864.0" textLength="49.5" lengthAdjust="spacingAndGlyphs">in</tspan> <tspan x="929.0" textLength="102.0" lengthAdjust="spacingAndGlyphs">the</tspan> <tspan x="1044.0" textLength="154.5" lengthAdjust="spacingAndGlyphs">Tech</tspan> <tspan x="1214.0" textLength="204.5" lengthAdjust="spacingAndGlyphs">sector,</tspan> <tspan x="1434.0" textLength="97.0" lengthAdjust="spacingAndGlyphs">we</tspan> <tspan x="1549.0" textLength="104.5" lengthAdjust="spacingAndGlyphs">are</tspan> <tspan x="1670.5" textLength="278.0" lengthAdjust="spacingAndGlyphs">probably</tspan> <tspan x="1967.5" textLength="130.0" lengthAdjust="spacingAndGlyphs">only</tspan> <tspan x="2114.0" textLength="87.0" lengthAdjust="spacingAndGlyphs">still</tspan> <tspan x="2217.5" textLength="70.0" lengthAdjust="spacingAndGlyphs">at</tspan> <tspan x="2300.0" textLength="61.5" lengthAdjust="spacingAndGlyphs">its</tspan> <tspan x="2376.5" textLength="154.5" lengthAdjust="spacingAndGlyphs">early</tspan> <tspan x="2546.5" textLength="194.5" lengthAdjust="spacingAndGlyphs">stage.</tspan></text>
<text y="773.5" class="tt"><tspan x="42.9" textLength="161.8" lengthAdjust="spacingAndGlyphs">Chart</tspan> <tspan x="222.8" textLength="74.1" lengthAdjust="spacingAndGlyphs">12.</tspan> <tspan x="313.2" textLength="183.6" lengthAdjust="spacingAndGlyphs">Sector</tspan> <tspan x="510.4" textLength="345.3" lengthAdjust="spacingAndGlyphs">composition</tspan> <tspan x="872.5" textLength="59.0" lengthAdjust="spacingAndGlyphs">of</tspan> <tspan x="943.3" textLength="95.1" lengthAdjust="spacingAndGlyphs">the</tspan> <tspan x="1051.9" textLength="109.7" lengthAdjust="spacingAndGlyphs">S&amp;P</tspan> <tspan x="1174.3" textLength="100.5" lengthAdjust="spacingAndGlyphs">500</tspan> <tspan x="1288.8" textLength="154.9" lengthAdjust="spacingAndGlyphs">Index</tspan> <tspan x="1456.7" textLength="147.1" lengthAdjust="spacingAndGlyphs">since</tspan> <tspan x="1623.3" textLength="125.6" lengthAdjust="spacingAndGlyphs">1975</tspan></text>
<text y="2181.0" class="sr"><tspan x="44.4" textLength="149.7" lengthAdjust="spacingAndGlyphs">Source:</tspan> <tspan x="207.5" textLength="191.2" lengthAdjust="spacingAndGlyphs">Goldman</tspan> <tspan x="409.6" textLength="118.8" lengthAdjust="spacingAndGlyphs">Sachs</tspan></text>
</svg>
</body></html>
